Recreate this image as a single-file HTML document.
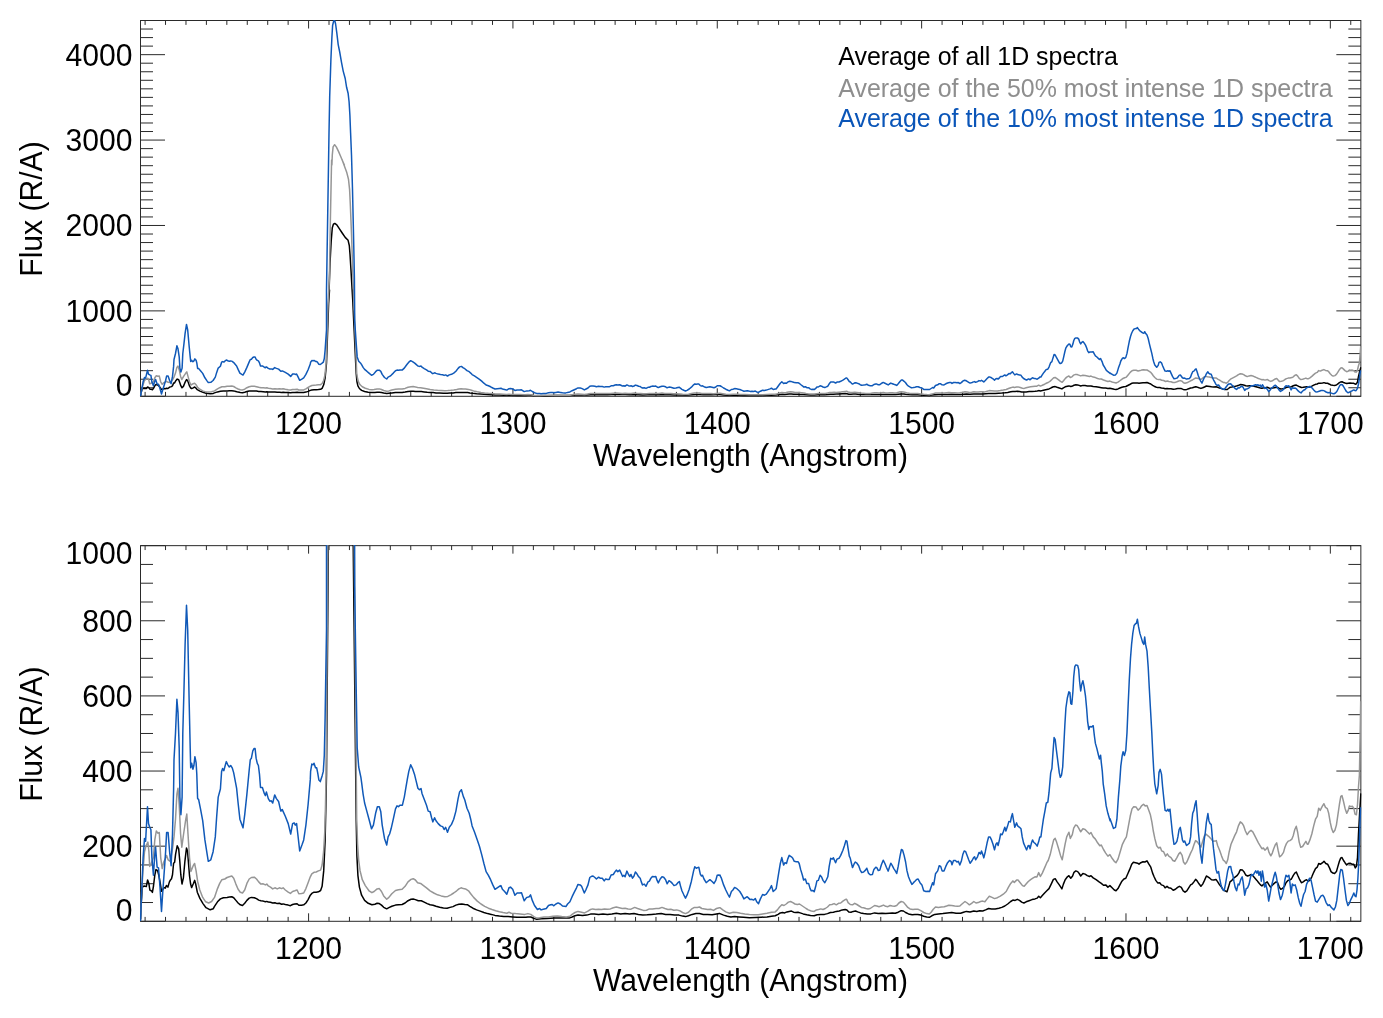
<!DOCTYPE html>
<html><head><meta charset="utf-8"><title>Spectra</title>
<style>
html,body{margin:0;padding:0;background:#fff;}
svg{display:block;}
text{font-family:"Liberation Sans",sans-serif;}
.ax{font-size:30.1px;fill:#000;}
.lg{font-size:24.95px;}
.fr{fill:none;stroke:#2a2a2a;stroke-width:1;}
.tk{stroke:#2a2a2a;stroke-width:1;fill:none;}
.c{fill:none;stroke-width:1.5;stroke-linejoin:round;stroke-linecap:butt;}
</style></head><body>
<svg width="1383" height="1018" viewBox="0 0 1383 1018">
<rect width="1383" height="1018" fill="#fff"/>
<defs><clipPath id="c1"><rect x="139.9" y="19.9" width="1221.55" height="377.0"/></clipPath>
<clipPath id="c2"><rect x="139.9" y="545.05" width="1221.55" height="376.84999999999997"/></clipPath></defs>

<path class="tk" d="M145.10 20.5v4.4M145.10 396.3v-4.4M165.53 20.5v4.4M165.53 396.3v-4.4M185.97 20.5v4.4M185.97 396.3v-4.4M206.40 20.5v4.4M206.40 396.3v-4.4M226.84 20.5v4.4M226.84 396.3v-4.4M247.27 20.5v4.4M247.27 396.3v-4.4M267.71 20.5v4.4M267.71 396.3v-4.4M288.14 20.5v4.4M288.14 396.3v-4.4M308.58 20.5v8.0M308.58 396.3v-8.0M329.01 20.5v4.4M329.01 396.3v-4.4M349.45 20.5v4.4M349.45 396.3v-4.4M369.88 20.5v4.4M369.88 396.3v-4.4M390.32 20.5v4.4M390.32 396.3v-4.4M410.75 20.5v4.4M410.75 396.3v-4.4M431.19 20.5v4.4M431.19 396.3v-4.4M451.62 20.5v4.4M451.62 396.3v-4.4M472.06 20.5v4.4M472.06 396.3v-4.4M492.50 20.5v4.4M492.50 396.3v-4.4M512.93 20.5v8.0M512.93 396.3v-8.0M533.37 20.5v4.4M533.37 396.3v-4.4M553.80 20.5v4.4M553.80 396.3v-4.4M574.23 20.5v4.4M574.23 396.3v-4.4M594.67 20.5v4.4M594.67 396.3v-4.4M615.11 20.5v4.4M615.11 396.3v-4.4M635.54 20.5v4.4M635.54 396.3v-4.4M655.97 20.5v4.4M655.97 396.3v-4.4M676.41 20.5v4.4M676.41 396.3v-4.4M696.85 20.5v4.4M696.85 396.3v-4.4M717.28 20.5v8.0M717.28 396.3v-8.0M737.71 20.5v4.4M737.71 396.3v-4.4M758.15 20.5v4.4M758.15 396.3v-4.4M778.59 20.5v4.4M778.59 396.3v-4.4M799.02 20.5v4.4M799.02 396.3v-4.4M819.45 20.5v4.4M819.45 396.3v-4.4M839.89 20.5v4.4M839.89 396.3v-4.4M860.33 20.5v4.4M860.33 396.3v-4.4M880.76 20.5v4.4M880.76 396.3v-4.4M901.19 20.5v4.4M901.19 396.3v-4.4M921.63 20.5v8.0M921.63 396.3v-8.0M942.07 20.5v4.4M942.07 396.3v-4.4M962.50 20.5v4.4M962.50 396.3v-4.4M982.93 20.5v4.4M982.93 396.3v-4.4M1003.37 20.5v4.4M1003.37 396.3v-4.4M1023.80 20.5v4.4M1023.80 396.3v-4.4M1044.24 20.5v4.4M1044.24 396.3v-4.4M1064.67 20.5v4.4M1064.67 396.3v-4.4M1085.11 20.5v4.4M1085.11 396.3v-4.4M1105.54 20.5v4.4M1105.54 396.3v-4.4M1125.98 20.5v8.0M1125.98 396.3v-8.0M1146.41 20.5v4.4M1146.41 396.3v-4.4M1166.85 20.5v4.4M1166.85 396.3v-4.4M1187.28 20.5v4.4M1187.28 396.3v-4.4M1207.72 20.5v4.4M1207.72 396.3v-4.4M1228.15 20.5v4.4M1228.15 396.3v-4.4M1248.59 20.5v4.4M1248.59 396.3v-4.4M1269.02 20.5v4.4M1269.02 396.3v-4.4M1289.46 20.5v4.4M1289.46 396.3v-4.4M1309.89 20.5v4.4M1309.89 396.3v-4.4M1330.33 20.5v8.0M1330.33 396.3v-8.0M1350.76 20.5v4.4M1350.76 396.3v-4.4M140.5 387.76h12.5M1360.85 387.76h-12.5M140.5 379.22h12.5M1360.85 379.22h-12.5M140.5 370.68h12.5M1360.85 370.68h-12.5M140.5 362.14h12.5M1360.85 362.14h-12.5M140.5 353.60h12.5M1360.85 353.60h-12.5M140.5 345.05h12.5M1360.85 345.05h-12.5M140.5 336.51h12.5M1360.85 336.51h-12.5M140.5 327.97h12.5M1360.85 327.97h-12.5M140.5 319.43h12.5M1360.85 319.43h-12.5M140.5 302.35h12.5M1360.85 302.35h-12.5M140.5 293.81h12.5M1360.85 293.81h-12.5M140.5 285.27h12.5M1360.85 285.27h-12.5M140.5 276.73h12.5M1360.85 276.73h-12.5M140.5 268.19h12.5M1360.85 268.19h-12.5M140.5 259.65h12.5M1360.85 259.65h-12.5M140.5 251.10h12.5M1360.85 251.10h-12.5M140.5 242.56h12.5M1360.85 242.56h-12.5M140.5 234.02h12.5M1360.85 234.02h-12.5M140.5 216.94h12.5M1360.85 216.94h-12.5M140.5 208.40h12.5M1360.85 208.40h-12.5M140.5 199.86h12.5M1360.85 199.86h-12.5M140.5 191.32h12.5M1360.85 191.32h-12.5M140.5 182.78h12.5M1360.85 182.78h-12.5M140.5 174.24h12.5M1360.85 174.24h-12.5M140.5 165.70h12.5M1360.85 165.70h-12.5M140.5 157.15h12.5M1360.85 157.15h-12.5M140.5 148.61h12.5M1360.85 148.61h-12.5M140.5 131.53h12.5M1360.85 131.53h-12.5M140.5 122.99h12.5M1360.85 122.99h-12.5M140.5 114.45h12.5M1360.85 114.45h-12.5M140.5 105.91h12.5M1360.85 105.91h-12.5M140.5 97.37h12.5M1360.85 97.37h-12.5M140.5 88.83h12.5M1360.85 88.83h-12.5M140.5 80.29h12.5M1360.85 80.29h-12.5M140.5 71.75h12.5M1360.85 71.75h-12.5M140.5 63.20h12.5M1360.85 63.20h-12.5M140.5 46.12h12.5M1360.85 46.12h-12.5M140.5 37.58h12.5M1360.85 37.58h-12.5M140.5 29.04h12.5M1360.85 29.04h-12.5M140.5 396.30h24.5M1360.85 396.30h-24.5M140.5 310.89h24.5M1360.85 310.89h-24.5M140.5 225.48h24.5M1360.85 225.48h-24.5M140.5 140.07h24.5M1360.85 140.07h-24.5M140.5 54.66h24.5M1360.85 54.66h-24.5"/>
<rect class="fr" x="140.5" y="20.5" width="1220.35" height="375.8"/>
<text class="ax" transform="translate(132.4 396.30) scale(1 1.06)" text-anchor="end">0</text>
<text class="ax" transform="translate(132.4 321.79) scale(1 1.06)" text-anchor="end">1000</text>
<text class="ax" transform="translate(132.4 236.38) scale(1 1.06)" text-anchor="end">2000</text>
<text class="ax" transform="translate(132.4 150.97) scale(1 1.06)" text-anchor="end">3000</text>
<text class="ax" transform="translate(132.4 65.56) scale(1 1.06)" text-anchor="end">4000</text>
<text class="ax" transform="translate(308.58 433.80) scale(1 1.06)" text-anchor="middle">1200</text>
<text class="ax" transform="translate(512.93 433.80) scale(1 1.06)" text-anchor="middle">1300</text>
<text class="ax" transform="translate(717.28 433.80) scale(1 1.06)" text-anchor="middle">1400</text>
<text class="ax" transform="translate(921.63 433.80) scale(1 1.06)" text-anchor="middle">1500</text>
<text class="ax" transform="translate(1125.98 433.80) scale(1 1.06)" text-anchor="middle">1600</text>
<text class="ax" transform="translate(1330.33 433.80) scale(1 1.06)" text-anchor="middle">1700</text>
<text class="ax" transform="translate(750.47 465.90) scale(1 1.06)" text-anchor="middle">Wavelength (Angstrom)</text>
<text class="ax" transform="translate(41.6 209.00) rotate(-90) scale(1 1.06)" text-anchor="middle">Flux (R/A)</text>
<g clip-path="url(#c1)">
<path class="c" stroke="#000" d="M140.6 395.8 L141.3 392.0 L142.3 388.5 L144.2 388.3 L146.3 388.4 L147.6 386.9 L148.8 387.6 L149.9 389.2 L151.4 389.3 L152.4 389.7 L153.5 388.3 L154.8 385.8 L156.0 384.5 L157.6 384.8 L158.8 385.8 L160.2 387.6 L161.5 389.5 L162.5 389.2 L163.6 388.8 L164.3 388.6 L165.3 388.8 L166.4 388.2 L167.9 388.5 L169.4 387.3 L170.5 386.9 L171.5 386.6 L172.5 385.7 L173.6 383.1 L174.6 382.9 L175.6 381.0 L177.2 379.1 L178.7 379.8 L179.8 382.7 L180.8 385.7 L182.0 387.8 L183.4 386.4 L184.9 382.7 L186.5 379.6 L187.5 380.3 L188.5 383.1 L189.5 385.9 L190.6 387.8 L191.6 388.6 L193.2 387.8 L194.7 387.0 L195.7 387.8 L197.3 389.7 L199.9 391.1 L203.0 392.3 L206.0 393.2 L210.2 393.7 L213.3 393.4 L214.5 392.9 L217.5 391.9 L220.4 391.2 L223.4 390.9 L227.1 390.9 L229.3 390.8 L231.8 390.7 L233.7 390.9 L235.9 391.5 L238.1 392.1 L240.3 392.5 L242.5 392.7 L244.7 392.2 L246.9 391.5 L249.2 391.0 L251.4 390.9 L254.3 390.9 L256.5 391.1 L258.7 391.5 L260.9 391.6 L263.2 391.7 L265.4 391.9 L266.8 391.8 L268.3 391.9 L270.5 392.0 L272.7 392.1 L274.9 392.1 L277.2 392.3 L279.4 392.2 L281.6 392.4 L283.1 392.3 L285.3 392.5 L288.2 392.6 L290.4 392.7 L292.6 392.5 L294.8 392.4 L297.1 392.3 L298.8 392.6 L301.5 392.6 L303.7 392.5 L305.9 392.1 L308.1 391.4 L310.3 390.4 L311.8 390.0 L314.0 389.7 L316.2 389.7 L318.4 389.6 L320.6 389.3 L322.1 388.4 L323.7 384.8 L325.1 378.1 L325.9 369.7 L326.5 363.0 L328.7 300.9 L329.5 290.1 L328.2 310.0 L329.0 292.6 L330.0 263.2 L331.2 241.1 L332.3 227.8 L333.4 224.2 L334.8 223.4 L336.8 224.9 L339.3 228.6 L342.2 233.0 L345.2 237.4 L348.1 240.3 L349.3 245.5 L350.0 254.3 L351.0 270.5 L352.1 289.7 L353.3 310.0 L352.4 290.1 L353.0 306.3 L355.7 363.0 L356.2 373.1 L356.9 381.5 L357.9 385.8 L359.4 388.5 L361.6 390.4 L364.6 391.5 L368.2 392.2 L371.9 392.5 L374.9 392.4 L377.1 392.2 L379.3 392.3 L381.5 392.6 L383.7 393.1 L386.7 393.5 L388.9 393.2 L391.8 392.9 L395.5 392.6 L398.5 392.5 L402.1 392.5 L405.1 392.1 L408.0 391.6 L411.0 391.3 L413.2 391.2 L415.4 391.4 L418.3 391.6 L421.3 391.6 L424.2 391.9 L427.2 392.3 L430.1 392.5 L433.1 392.6 L436.0 392.9 L439.7 393.1 L443.4 393.3 L447.1 393.3 L450.0 393.1 L453.0 392.9 L455.9 392.6 L458.9 392.4 L461.8 392.4 L464.8 392.5 L467.7 392.5 L469.9 392.9 L472.9 393.3 L476.6 393.7 L480.2 394.0 L483.9 394.3 L487.6 394.6 L491.3 394.7 L495.0 395.0 L499.4 395.1 L503.8 395.2 L508.2 395.2 L512.7 395.3 L517.1 395.4 L521.5 395.4 L525.9 395.4 L527.9 395.3 L530.8 395.3 L533.8 395.6 L536.7 395.8 L541.1 395.7 L547.0 395.7 L554.4 395.6 L561.8 395.6 L569.1 395.6 L572.1 395.3 L575.0 395.1 L578.0 394.9 L582.4 395.0 L586.8 394.9 L590.5 394.7 L594.2 394.6 L598.6 394.7 L603.0 394.7 L607.4 394.7 L611.9 394.6 L616.3 394.5 L620.7 394.6 L625.1 394.6 L629.5 394.7 L634.0 394.6 L638.4 394.7 L642.8 394.9 L647.2 394.8 L651.6 394.7 L656.1 394.7 L661.2 394.6 L665.6 394.7 L670.1 394.7 L674.5 394.9 L678.9 394.9 L682.6 395.1 L685.5 395.2 L688.5 395.1 L692.2 394.7 L695.9 394.6 L699.5 394.6 L703.2 394.7 L707.6 394.7 L712.1 394.8 L716.5 394.6 L719.4 394.6 L719.9 394.6 L723.6 394.9 L727.3 395.2 L730.9 395.3 L734.6 395.2 L739.0 395.3 L743.5 395.4 L749.4 395.5 L755.3 395.5 L761.2 395.4 L767.0 395.3 L771.5 395.2 L775.2 395.1 L778.1 394.7 L780.3 394.4 L782.5 394.3 L784.7 394.4 L786.9 394.2 L789.2 394.1 L791.4 394.0 L793.6 394.2 L795.8 394.3 L798.0 394.2 L800.2 394.4 L803.2 394.6 L806.8 394.8 L810.5 395.0 L814.2 395.1 L817.2 394.8 L820.8 394.7 L824.5 394.7 L827.5 394.6 L830.4 394.3 L833.4 394.2 L836.3 394.1 L839.3 394.0 L842.2 393.7 L845.2 393.6 L846.9 393.7 L848.8 394.2 L851.0 394.2 L853.3 394.1 L855.5 394.0 L857.7 394.2 L860.6 394.4 L863.6 394.6 L867.3 394.6 L870.9 394.6 L874.6 394.4 L878.3 394.6 L882.0 394.5 L885.7 394.6 L889.4 394.5 L892.3 394.4 L895.3 394.5 L898.2 394.2 L901.2 393.9 L903.4 394.0 L905.6 394.3 L908.5 394.6 L912.2 394.8 L914.9 394.7 L917.8 394.7 L920.8 394.9 L923.7 395.2 L926.7 395.3 L929.3 395.4 L931.8 395.1 L934.8 394.7 L938.4 394.6 L942.9 394.6 L947.3 394.4 L951.7 394.3 L956.1 394.5 L960.6 394.5 L963.5 394.2 L966.4 394.1 L970.1 394.2 L973.8 394.0 L976.8 394.1 L979.7 393.9 L982.7 394.0 L985.6 393.7 L988.6 393.4 L991.5 393.5 L995.2 393.5 L998.9 393.3 L1001.8 393.1 L1004.8 392.8 L1007.7 392.4 L1010.7 391.8 L1012.9 391.5 L1015.1 391.5 L1017.3 391.3 L1019.5 391.5 L1021.7 391.9 L1023.9 392.1 L1026.1 391.9 L1029.1 391.6 L1032.0 391.4 L1035.0 391.2 L1037.2 391.0 L1038.7 390.6 L1040.4 390.9 L1042.3 390.5 L1044.6 389.9 L1046.8 389.4 L1049.0 388.9 L1051.2 387.8 L1053.4 386.8 L1055.2 386.6 L1057.1 387.3 L1059.3 388.0 L1061.9 388.9 L1063.4 387.8 L1065.2 386.8 L1067.4 386.2 L1068.9 385.9 L1070.8 386.5 L1072.6 386.0 L1074.0 385.2 L1075.8 384.8 L1077.7 385.0 L1079.2 385.4 L1080.7 386.0 L1082.9 385.4 L1085.1 385.6 L1087.3 385.9 L1089.5 386.1 L1091.0 385.9 L1093.2 386.4 L1096.1 386.8 L1099.1 387.3 L1101.3 387.7 L1103.5 388.1 L1105.7 388.0 L1107.9 388.5 L1109.9 388.2 L1112.1 388.7 L1114.3 389.2 L1116.0 389.4 L1118.0 388.9 L1119.9 388.0 L1121.9 387.2 L1123.9 386.7 L1125.8 386.5 L1127.8 385.5 L1129.7 384.5 L1131.7 383.3 L1133.4 382.9 L1135.6 383.0 L1137.6 383.1 L1139.0 383.3 L1140.8 383.0 L1143.0 382.8 L1144.9 382.8 L1147.0 382.5 L1148.9 383.3 L1150.8 384.0 L1152.6 385.3 L1154.1 386.2 L1155.8 387.0 L1157.7 387.6 L1159.7 387.5 L1161.4 388.0 L1163.6 388.2 L1165.1 388.7 L1167.0 388.4 L1168.8 388.7 L1171.0 388.8 L1173.2 389.3 L1175.4 389.0 L1177.6 388.6 L1179.4 388.4 L1181.3 388.6 L1183.2 389.4 L1185.0 389.7 L1186.8 389.4 L1188.7 388.7 L1190.6 388.0 L1192.4 387.8 L1193.9 387.3 L1195.6 386.8 L1197.1 387.1 L1199.0 387.8 L1200.9 388.4 L1202.7 387.8 L1204.5 387.0 L1206.4 386.0 L1207.9 386.2 L1209.8 386.5 L1211.5 386.8 L1213.7 386.9 L1216.0 386.8 L1217.7 387.3 L1219.6 388.0 L1221.6 388.6 L1223.3 389.2 L1225.1 389.4 L1227.0 389.6 L1228.5 388.5 L1230.0 387.3 L1231.9 387.0 L1233.6 386.5 L1235.4 386.2 L1237.3 385.8 L1238.8 385.3 L1240.3 384.6 L1242.5 384.7 L1244.3 385.2 L1245.7 385.8 L1247.6 386.0 L1249.6 385.8 L1251.3 385.7 L1253.1 386.0 L1255.0 386.5 L1256.9 387.0 L1258.7 387.5 L1260.5 388.0 L1261.9 388.3 L1263.9 387.8 L1265.8 387.6 L1267.2 387.3 L1269.0 388.0 L1270.5 388.5 L1272.3 388.1 L1274.2 387.7 L1276.1 387.3 L1277.6 387.5 L1279.3 388.5 L1280.8 389.0 L1282.6 388.8 L1284.5 388.4 L1286.0 387.5 L1287.9 387.0 L1289.6 386.9 L1291.4 386.7 L1293.3 385.8 L1294.8 385.3 L1296.3 385.1 L1297.7 385.8 L1299.7 386.8 L1301.4 387.5 L1303.2 387.3 L1305.1 387.0 L1306.6 386.8 L1308.1 387.2 L1309.9 387.0 L1311.8 386.2 L1313.7 385.2 L1315.5 384.3 L1317.2 384.0 L1318.7 383.2 L1320.6 383.3 L1322.6 383.0 L1324.0 382.6 L1325.8 383.2 L1327.6 383.3 L1329.5 384.2 L1331.0 385.0 L1332.9 385.3 L1334.6 385.4 L1336.4 385.0 L1337.9 383.8 L1339.4 382.6 L1340.8 381.9 L1342.0 381.8 L1343.5 382.5 L1345.0 383.0 L1346.7 383.5 L1348.2 383.2 L1350.1 383.1 L1352.0 383.3 L1353.8 383.3 L1355.3 384.2 L1356.4 383.8 L1357.5 381.8 L1358.5 376.4 L1359.7 371.4 L1360.9 367.2"/>
<path class="c" stroke="#969696" d="M140.5 396.2 L141.6 389.9 L143.1 384.5 L144.5 380.5 L146.0 379.1 L147.9 378.3 L148.9 380.5 L149.7 383.8 L151.2 383.2 L153.4 381.8 L154.8 377.8 L156.3 375.8 L157.8 376.3 L159.3 376.1 L160.7 381.8 L162.2 384.3 L163.7 382.8 L165.2 382.1 L166.6 381.3 L168.1 382.3 L170.3 382.6 L172.5 379.8 L174.0 377.1 L175.5 373.1 L176.9 367.4 L178.0 366.0 L179.2 369.7 L180.6 376.4 L181.8 379.5 L183.6 376.4 L185.8 373.1 L186.8 371.9 L188.0 376.4 L189.5 381.8 L190.9 385.0 L193.2 383.7 L194.6 383.2 L196.1 384.8 L197.6 387.2 L199.8 389.2 L202.7 390.9 L205.7 391.9 L208.6 392.1 L211.6 391.8 L214.5 390.9 L217.5 388.9 L219.7 387.7 L221.9 386.8 L224.8 386.7 L227.1 386.3 L229.3 386.2 L231.8 386.0 L233.7 386.5 L235.9 387.8 L238.1 389.0 L240.3 389.7 L242.5 389.9 L244.7 389.2 L246.9 387.7 L249.2 386.7 L251.4 386.3 L254.3 386.3 L256.5 386.7 L258.7 387.3 L260.9 387.8 L263.2 387.8 L265.4 388.0 L266.8 387.8 L268.3 388.3 L270.5 388.5 L272.7 388.9 L274.9 388.7 L277.2 388.9 L279.4 388.7 L281.6 388.9 L283.1 388.7 L285.3 389.2 L288.2 389.7 L290.4 390.0 L292.6 389.5 L294.8 389.4 L297.1 389.2 L298.8 390.0 L301.5 390.0 L303.7 389.9 L305.9 388.9 L308.1 387.5 L310.3 386.2 L311.8 385.5 L314.0 385.2 L316.2 385.1 L318.4 384.8 L320.6 384.7 L322.1 383.5 L323.6 380.5 L324.8 375.8 L325.5 369.7 L326.1 363.0 L328.0 306.3 L328.8 290.1 L329.4 277.9 L330.4 219.0 L331.6 160.1 L331.9 165.0 L332.3 155.0 L333.1 146.9 L334.6 144.7 L336.3 146.9 L338.5 151.4 L340.7 156.5 L342.9 161.7 L344.4 165.0 L342.2 160.1 L344.4 166.0 L346.6 171.9 L348.5 179.3 L349.6 189.6 L350.3 204.3 L351.5 233.7 L352.5 263.2 L353.5 292.6 L354.0 310.0 L353.5 290.1 L354.0 306.3 L356.7 373.1 L357.6 378.8 L358.7 382.5 L360.1 384.8 L362.3 386.8 L365.3 388.2 L369.0 389.4 L371.9 389.8 L374.1 389.5 L377.1 388.9 L379.3 388.9 L381.5 389.5 L383.7 390.5 L386.7 391.3 L388.9 390.9 L391.8 390.0 L395.5 389.3 L398.5 389.1 L402.1 389.0 L405.1 388.4 L408.0 387.3 L411.0 386.8 L413.2 386.6 L415.4 386.9 L417.6 387.5 L420.6 387.7 L423.5 388.2 L426.5 388.7 L430.1 389.4 L433.8 389.9 L437.5 390.3 L441.2 390.5 L444.9 390.7 L447.8 390.6 L450.8 390.3 L453.7 389.9 L456.7 389.4 L458.9 388.9 L461.1 388.7 L463.3 388.9 L465.5 388.9 L468.5 389.4 L470.7 390.0 L473.6 390.9 L477.3 391.7 L481.0 392.4 L484.7 392.9 L488.4 393.3 L492.0 393.6 L495.7 393.9 L499.4 394.1 L503.1 394.3 L506.8 394.5 L509.0 394.2 L511.2 394.5 L515.6 394.6 L520.0 394.6 L524.5 394.7 L524.9 394.7 L527.9 394.6 L530.8 394.7 L533.8 395.2 L536.7 395.6 L539.6 395.5 L544.1 395.3 L548.5 395.3 L552.9 395.2 L557.3 395.1 L561.8 395.2 L566.2 395.3 L569.9 395.2 L572.1 394.7 L575.0 394.3 L578.0 394.1 L581.6 394.2 L584.6 394.4 L587.5 394.1 L590.5 393.6 L592.7 393.5 L595.6 393.6 L598.6 393.6 L601.5 393.6 L604.5 393.5 L607.4 393.6 L610.4 393.5 L613.3 393.2 L616.3 393.0 L619.2 393.2 L622.2 393.4 L625.1 393.3 L628.1 393.5 L631.0 393.6 L634.7 393.1 L637.6 393.4 L640.6 393.6 L643.5 393.8 L646.5 393.8 L649.4 393.5 L652.4 393.5 L656.1 393.4 L659.0 393.4 L662.0 393.1 L664.9 393.4 L667.9 393.6 L670.8 393.6 L673.8 393.8 L676.7 393.7 L679.6 393.9 L682.6 394.3 L685.5 394.6 L688.5 394.2 L691.4 393.6 L694.4 393.1 L697.3 393.1 L699.5 393.0 L701.8 393.4 L704.7 393.5 L707.6 393.6 L710.6 393.6 L713.5 393.8 L716.5 393.4 L719.4 393.2 L719.9 393.2 L722.8 393.7 L725.8 394.2 L729.5 394.5 L733.2 394.2 L736.8 394.3 L740.5 394.5 L744.9 394.6 L749.4 394.7 L753.8 394.8 L758.2 394.8 L762.6 394.7 L767.0 394.5 L771.5 394.2 L775.2 394.2 L777.4 393.7 L779.6 393.0 L781.8 392.5 L784.0 392.7 L786.2 392.4 L788.4 391.9 L790.6 391.8 L792.8 392.0 L795.0 392.4 L797.3 392.5 L799.5 392.4 L801.7 392.7 L803.9 393.0 L806.1 393.4 L808.3 393.7 L811.3 394.0 L814.2 394.1 L816.4 393.7 L818.6 393.6 L820.8 393.5 L823.0 393.6 L825.3 393.4 L827.5 393.0 L829.7 392.5 L831.9 392.5 L834.1 392.3 L836.3 392.5 L838.5 392.2 L840.7 392.1 L842.9 391.7 L845.2 391.4 L846.6 391.3 L848.1 392.0 L850.3 392.5 L852.5 392.5 L854.7 392.2 L856.9 392.5 L859.2 392.8 L861.4 393.1 L863.6 393.2 L865.8 393.4 L868.0 393.5 L870.2 393.4 L872.4 393.0 L874.6 392.7 L876.8 392.8 L879.0 393.0 L881.3 392.8 L883.5 392.6 L885.7 392.9 L887.9 393.0 L890.1 392.7 L892.3 392.8 L894.5 392.9 L896.7 392.7 L898.9 392.1 L901.2 391.8 L903.4 391.9 L905.6 392.5 L907.8 393.1 L910.0 393.5 L912.9 393.6 L914.9 393.6 L917.8 393.6 L920.8 393.9 L923.7 394.3 L926.7 394.6 L929.3 394.7 L931.1 394.2 L933.3 393.6 L935.5 393.0 L938.4 393.1 L941.4 393.0 L944.3 393.0 L946.6 392.8 L948.8 392.6 L951.7 392.7 L954.7 392.8 L957.6 392.9 L959.8 392.8 L962.0 392.4 L965.0 391.8 L967.2 392.1 L969.4 392.5 L971.6 392.2 L973.8 391.8 L976.0 392.1 L978.2 392.0 L980.5 391.8 L982.7 391.7 L984.9 391.9 L987.1 391.2 L989.3 390.6 L991.5 390.8 L994.5 391.1 L997.4 390.9 L1000.3 390.6 L1003.3 390.1 L1006.2 389.5 L1008.5 388.5 L1010.7 387.7 L1012.9 387.1 L1014.3 387.4 L1016.6 386.9 L1018.0 386.9 L1020.2 387.5 L1022.5 388.2 L1024.2 388.4 L1026.1 387.8 L1028.3 387.2 L1030.6 386.8 L1032.8 386.5 L1035.0 386.2 L1036.9 386.2 L1038.7 385.2 L1040.4 386.1 L1042.3 385.3 L1044.6 384.2 L1046.8 383.0 L1048.2 382.5 L1050.2 381.1 L1051.9 379.5 L1053.7 377.8 L1055.2 377.5 L1056.6 378.3 L1058.6 379.8 L1060.5 381.3 L1062.2 382.3 L1063.7 380.5 L1065.2 378.6 L1066.7 377.1 L1068.9 376.0 L1070.3 377.5 L1072.3 376.6 L1073.7 375.1 L1075.5 374.4 L1077.0 374.5 L1078.7 375.1 L1080.7 375.9 L1082.9 375.3 L1085.1 375.4 L1087.3 375.9 L1089.5 376.4 L1091.0 376.1 L1093.2 377.1 L1095.4 377.6 L1097.6 378.5 L1099.8 379.1 L1101.3 379.0 L1103.5 380.0 L1105.7 380.8 L1107.9 381.5 L1109.9 381.1 L1112.1 382.0 L1114.3 382.6 L1116.0 383.0 L1118.0 382.1 L1120.2 380.5 L1122.4 378.8 L1124.6 377.8 L1126.4 377.1 L1128.3 374.8 L1130.2 372.4 L1132.0 370.7 L1133.7 370.2 L1136.1 370.3 L1138.1 371.0 L1140.1 370.6 L1141.5 370.1 L1143.5 369.7 L1145.2 370.1 L1147.0 370.0 L1148.5 370.9 L1150.4 372.1 L1151.9 373.8 L1153.3 375.8 L1154.8 377.5 L1156.7 379.1 L1158.5 379.6 L1160.3 379.5 L1161.7 380.3 L1163.6 380.5 L1165.6 381.5 L1167.3 381.0 L1168.8 381.5 L1171.0 381.8 L1172.9 382.5 L1174.7 382.6 L1176.9 381.8 L1178.8 381.0 L1180.3 380.6 L1182.1 381.3 L1183.5 382.8 L1185.0 383.3 L1186.8 382.8 L1188.7 381.8 L1190.6 380.8 L1192.4 380.0 L1194.1 378.8 L1195.6 378.0 L1197.5 378.3 L1199.0 378.8 L1200.9 379.5 L1202.7 378.1 L1204.2 376.9 L1205.9 376.4 L1207.4 376.8 L1209.3 377.1 L1211.2 377.6 L1213.0 378.1 L1214.8 378.1 L1216.3 378.0 L1217.7 379.1 L1219.6 380.1 L1221.6 381.5 L1223.3 382.4 L1224.8 382.6 L1226.3 383.2 L1227.7 382.3 L1229.2 380.5 L1231.0 378.8 L1232.9 377.8 L1234.8 376.8 L1236.6 375.9 L1238.4 374.6 L1240.3 373.7 L1242.2 374.0 L1243.7 374.6 L1245.4 375.8 L1247.2 376.6 L1249.1 375.9 L1251.0 375.6 L1252.8 375.9 L1254.6 376.8 L1256.5 377.6 L1258.4 378.5 L1260.2 379.1 L1261.9 379.8 L1263.4 379.6 L1264.9 380.1 L1266.4 379.8 L1267.5 379.5 L1269.0 380.6 L1270.8 381.4 L1272.3 380.8 L1273.7 379.8 L1275.2 379.0 L1276.7 378.5 L1278.1 380.1 L1279.6 381.6 L1281.5 381.3 L1283.5 380.6 L1284.9 379.5 L1286.4 378.6 L1288.2 378.1 L1289.9 378.0 L1291.9 377.6 L1293.3 376.8 L1294.8 375.4 L1296.3 374.7 L1297.7 376.1 L1299.2 378.3 L1300.7 379.5 L1302.6 379.3 L1304.4 378.6 L1305.9 378.1 L1307.3 378.8 L1308.1 378.8 L1309.9 377.8 L1311.8 376.4 L1313.7 374.6 L1315.5 373.1 L1317.2 372.4 L1318.7 370.6 L1320.2 371.1 L1322.1 370.2 L1323.9 369.6 L1325.5 370.4 L1327.3 370.7 L1328.7 371.7 L1330.2 373.8 L1331.7 375.3 L1333.2 376.1 L1334.9 375.6 L1336.4 374.4 L1337.9 372.1 L1339.4 369.7 L1340.8 367.9 L1342.0 367.7 L1343.5 369.1 L1345.0 370.6 L1346.7 371.7 L1348.2 371.1 L1349.4 370.1 L1350.8 370.2 L1352.3 370.1 L1353.8 370.6 L1355.0 371.9 L1356.4 372.1 L1357.5 369.7 L1358.5 365.7 L1359.4 363.0 L1360.1 354.6 L1360.7 346.3"/>
<path class="c" stroke="#1059b8" d="M140.5 396.2 L141.6 389.9 L143.1 381.8 L144.5 377.5 L145.6 378.1 L147.5 370.2 L148.5 374.1 L149.7 374.9 L150.9 375.4 L151.9 381.8 L153.4 385.8 L154.8 381.1 L155.6 379.5 L157.1 384.0 L158.5 384.2 L160.0 388.5 L161.5 394.1 L162.9 389.2 L164.4 384.5 L165.6 380.5 L166.6 376.1 L168.1 376.1 L169.6 380.5 L171.1 383.7 L172.5 376.4 L173.6 366.4 L174.0 359.5 L175.5 353.5 L176.9 345.8 L178.0 348.8 L179.2 356.9 L179.9 368.1 L180.9 372.1 L182.1 368.1 L182.8 353.5 L184.0 343.4 L185.1 333.4 L186.5 324.4 L187.7 330.0 L188.3 336.7 L189.2 346.8 L190.2 356.9 L190.7 361.4 L191.7 360.4 L192.9 361.7 L193.9 360.9 L194.9 358.9 L196.1 360.2 L196.8 362.9 L197.6 368.4 L198.6 368.6 L200.5 370.7 L202.7 373.4 L204.9 377.8 L207.2 381.1 L208.3 382.6 L210.8 382.3 L213.1 380.5 L215.3 377.1 L216.7 372.4 L218.2 368.1 L220.4 366.2 L221.6 362.2 L222.6 361.6 L223.8 362.1 L224.8 361.2 L226.3 360.0 L227.8 360.7 L229.3 361.2 L230.7 360.9 L232.2 361.4 L233.7 362.6 L236.6 366.0 L238.1 369.4 L239.9 373.1 L241.8 374.3 L243.0 375.0 L244.7 372.1 L246.9 367.4 L249.2 361.9 L250.3 359.5 L251.4 359.2 L252.8 357.5 L254.0 357.0 L255.1 357.0 L256.1 359.2 L257.3 360.4 L258.4 360.9 L259.5 362.9 L260.5 365.9 L262.4 365.9 L264.3 367.2 L265.4 367.7 L266.4 366.9 L268.3 368.4 L269.8 369.0 L271.3 368.9 L272.7 369.4 L274.7 367.6 L276.4 368.4 L278.6 369.1 L280.8 371.2 L282.3 370.9 L285.3 372.4 L288.2 374.1 L290.7 376.4 L292.6 374.1 L294.1 373.9 L295.3 374.4 L296.6 374.1 L297.8 376.4 L299.7 380.3 L302.2 378.8 L303.7 377.8 L305.9 374.4 L308.1 369.7 L310.3 364.0 L310.6 362.2 L311.8 360.6 L313.3 360.7 L314.0 360.4 L315.5 361.4 L316.7 361.4 L317.7 362.6 L318.9 364.2 L320.3 364.5 L322.1 363.2 L323.3 362.2 L324.3 358.5 L325.1 350.2 L325.8 340.1 L326.5 330.0 L326.5 290.1 L328.5 165.0 L329.0 133.0 L329.7 96.2 L330.9 59.4 L331.9 37.3 L332.6 25.5 L333.7 20.8 L334.8 20.8 L335.6 24.0 L336.8 32.9 L338.2 44.6 L339.7 52.0 L341.5 62.3 L343.2 71.1 L345.2 78.5 L346.6 87.3 L348.1 93.2 L349.1 102.0 L349.9 115.3 L350.6 133.0 L351.5 155.0 L352.5 189.6 L353.5 233.7 L354.4 277.9 L354.7 320.0 L355.3 330.0 L356.2 343.4 L357.2 356.9 L358.7 361.2 L360.9 363.6 L361.6 364.7 L363.1 367.4 L364.6 369.4 L366.8 371.2 L369.0 373.1 L371.5 375.3 L373.4 374.4 L375.6 371.7 L377.4 370.2 L379.3 370.2 L380.8 371.4 L382.2 374.4 L384.5 377.5 L386.7 379.0 L388.1 377.1 L389.6 376.4 L391.1 375.3 L393.3 373.1 L395.5 370.7 L397.0 370.1 L398.5 370.2 L399.9 369.9 L402.4 369.9 L404.3 368.1 L405.8 366.0 L407.3 364.0 L408.8 362.2 L410.7 360.7 L412.5 361.6 L414.7 363.1 L416.1 364.4 L417.9 366.0 L419.4 366.4 L421.0 366.1 L422.0 367.2 L424.2 368.6 L426.5 369.9 L428.2 371.2 L430.1 371.4 L431.6 372.8 L432.8 373.7 L434.6 372.8 L436.0 373.4 L438.2 374.1 L440.5 374.6 L442.7 374.8 L444.1 375.4 L445.6 374.9 L447.5 376.0 L449.3 374.9 L451.5 374.3 L453.7 373.1 L455.9 371.2 L458.1 368.4 L459.6 366.9 L461.4 366.4 L463.3 367.9 L464.8 368.7 L467.0 370.6 L469.2 371.7 L470.7 373.1 L472.1 374.6 L474.4 375.9 L477.3 377.8 L479.5 379.3 L481.7 381.1 L483.9 383.2 L486.1 385.0 L488.4 385.8 L490.6 386.8 L492.8 388.0 L495.0 389.0 L497.2 388.7 L499.4 388.4 L500.9 388.2 L502.4 389.0 L504.6 389.5 L506.8 390.1 L509.0 388.7 L510.5 388.5 L512.7 389.0 L514.9 390.4 L517.1 389.9 L519.3 389.9 L521.5 389.8 L524.2 391.6 L526.7 390.9 L527.1 390.9 L529.3 390.7 L530.5 390.3 L532.3 391.5 L534.5 392.7 L537.4 393.6 L539.6 393.4 L541.1 393.7 L543.3 393.6 L546.3 393.4 L548.5 392.7 L550.7 392.5 L552.2 392.5 L553.6 392.8 L555.9 392.4 L558.1 392.1 L560.3 392.4 L562.5 392.8 L564.4 392.9 L565.9 392.9 L567.6 392.4 L569.9 391.9 L572.1 390.7 L574.3 389.7 L576.5 388.7 L578.0 387.9 L580.2 388.0 L581.6 388.4 L583.1 389.2 L584.3 389.9 L586.1 389.0 L588.0 388.0 L589.8 386.3 L591.2 386.1 L593.0 386.0 L594.9 386.3 L596.4 386.7 L598.6 386.3 L600.1 386.5 L602.3 386.5 L604.2 387.1 L605.7 386.7 L607.4 386.8 L609.2 386.8 L611.1 385.8 L613.3 385.7 L615.1 385.0 L616.3 384.7 L617.8 385.0 L619.7 384.7 L621.4 385.5 L622.6 386.1 L623.9 385.8 L625.1 386.2 L626.9 384.9 L628.5 385.7 L629.8 386.1 L631.0 385.7 L632.5 386.5 L634.0 386.0 L635.4 385.1 L636.9 385.5 L638.7 386.2 L640.2 386.5 L641.3 387.3 L642.5 388.0 L644.3 387.8 L646.0 388.4 L648.0 387.3 L649.4 387.2 L650.9 386.5 L652.4 386.1 L654.3 386.2 L655.8 386.1 L657.1 387.0 L658.3 387.6 L660.2 386.7 L662.0 386.2 L663.7 386.3 L665.6 386.8 L667.1 387.8 L669.0 387.1 L670.8 387.3 L672.3 387.7 L674.0 388.2 L676.0 388.0 L677.9 387.5 L679.4 387.2 L680.4 388.2 L681.9 389.4 L683.8 390.3 L685.5 391.0 L687.0 390.4 L689.2 389.0 L691.4 387.2 L693.6 384.8 L694.8 383.9 L696.3 384.2 L697.6 384.1 L698.8 384.0 L700.3 385.6 L701.5 386.0 L702.5 385.8 L704.0 386.7 L706.2 387.5 L707.6 387.2 L709.9 386.8 L712.1 387.2 L714.0 387.7 L715.8 387.0 L717.2 385.8 L718.7 385.8 L720.2 385.8 L719.9 385.8 L721.4 386.5 L723.6 388.0 L725.8 389.2 L728.0 390.2 L729.5 390.8 L731.4 389.5 L732.9 389.2 L734.6 388.6 L736.4 388.8 L738.3 389.2 L739.8 389.5 L742.0 390.4 L743.9 391.2 L745.7 390.9 L747.2 390.7 L748.6 391.0 L750.1 391.4 L752.0 391.3 L753.5 391.5 L755.3 391.1 L756.7 391.9 L758.5 392.3 L760.4 391.2 L762.6 390.2 L764.5 390.4 L766.3 390.1 L768.5 389.4 L770.0 388.9 L771.5 388.2 L773.2 389.5 L775.2 389.1 L776.2 388.9 L777.4 387.2 L778.8 385.2 L780.3 383.2 L781.8 381.8 L783.6 383.5 L785.0 383.0 L786.5 383.2 L787.7 382.1 L789.2 381.3 L791.4 381.6 L792.8 382.0 L794.3 382.6 L796.2 382.8 L798.0 382.8 L799.2 383.2 L800.6 384.5 L802.4 385.8 L803.6 386.9 L805.4 386.7 L806.8 387.7 L808.6 387.7 L810.1 388.9 L811.3 389.4 L813.0 389.3 L814.2 389.6 L815.7 388.4 L816.9 387.1 L818.3 387.0 L820.1 385.8 L821.6 386.2 L823.0 387.0 L824.8 387.5 L826.3 386.9 L827.8 386.2 L829.2 383.8 L830.7 382.0 L832.2 382.1 L833.4 381.9 L835.6 383.0 L837.0 382.1 L839.0 382.0 L840.7 381.3 L842.9 380.1 L844.4 379.1 L845.9 378.0 L846.9 378.1 L848.1 379.8 L849.3 381.5 L850.3 382.0 L851.5 383.2 L852.5 384.1 L854.0 383.3 L855.2 382.8 L856.9 383.1 L858.7 383.7 L860.2 384.7 L861.7 385.2 L863.6 385.1 L865.5 384.7 L866.8 384.2 L868.4 385.3 L870.2 385.7 L872.4 385.7 L873.9 384.5 L875.8 384.0 L876.8 384.1 L878.3 384.8 L879.8 384.7 L881.3 383.5 L883.2 382.4 L884.9 383.2 L886.4 384.0 L888.2 384.9 L889.4 384.0 L890.8 383.1 L892.3 383.7 L893.8 384.3 L895.3 384.8 L896.7 385.4 L898.2 383.8 L900.0 381.5 L901.4 380.0 L902.6 380.1 L904.1 381.3 L905.6 382.8 L907.0 384.8 L908.5 386.2 L910.3 387.2 L911.9 387.9 L913.7 387.4 L914.9 387.2 L916.6 386.8 L918.1 386.7 L920.0 387.5 L921.9 388.0 L923.7 389.4 L925.9 389.5 L928.1 389.5 L929.6 389.5 L931.1 388.5 L932.6 387.5 L933.7 388.0 L935.5 385.5 L937.7 384.8 L939.2 383.7 L940.7 383.8 L942.1 384.8 L944.0 384.9 L945.8 383.8 L947.6 383.0 L949.5 382.5 L951.0 382.6 L952.0 383.4 L953.5 382.5 L955.4 382.5 L956.9 382.8 L958.3 382.6 L959.8 383.5 L961.3 382.6 L962.8 381.1 L964.2 380.3 L965.7 380.5 L967.2 381.4 L968.7 382.3 L970.1 383.1 L972.1 382.5 L973.5 381.9 L974.6 381.6 L975.6 382.3 L977.5 381.6 L979.0 380.6 L980.5 381.0 L981.5 380.3 L982.7 381.1 L983.8 381.9 L985.3 380.5 L987.1 378.5 L988.6 377.1 L990.0 377.1 L991.5 377.8 L993.0 378.8 L994.5 380.1 L995.9 378.8 L997.1 378.5 L998.1 379.1 L999.6 377.6 L1000.6 376.4 L1002.1 376.6 L1003.3 375.9 L1004.8 374.9 L1005.9 375.8 L1007.4 374.8 L1008.9 373.6 L1010.4 373.7 L1011.4 372.6 L1012.4 371.8 L1013.6 373.4 L1014.8 374.9 L1016.6 373.9 L1017.7 374.6 L1019.5 374.9 L1021.0 375.3 L1022.2 377.1 L1023.6 378.5 L1025.4 379.5 L1026.6 380.1 L1028.1 379.1 L1029.1 379.1 L1030.1 379.8 L1031.3 378.6 L1032.5 377.8 L1033.9 378.4 L1035.4 378.6 L1037.2 379.2 L1038.7 378.2 L1039.8 377.1 L1040.9 377.1 L1041.9 375.4 L1043.4 373.1 L1044.9 371.2 L1046.3 369.4 L1047.8 369.2 L1049.0 367.1 L1050.7 362.6 L1051.9 361.6 L1053.0 357.9 L1054.1 354.5 L1055.2 355.0 L1056.3 357.2 L1057.8 359.9 L1059.3 362.6 L1060.3 363.6 L1061.5 363.1 L1062.7 361.2 L1063.7 356.9 L1064.9 351.5 L1065.9 347.8 L1067.4 345.5 L1068.9 344.1 L1069.9 344.3 L1070.8 346.8 L1071.8 347.0 L1072.9 344.1 L1073.7 340.8 L1074.8 338.4 L1075.8 338.0 L1077.7 338.1 L1078.7 339.1 L1079.6 341.8 L1080.7 343.9 L1081.7 342.4 L1082.9 341.6 L1084.1 342.9 L1085.5 345.1 L1086.6 347.8 L1087.6 350.8 L1088.8 352.7 L1089.9 352.0 L1091.7 352.1 L1093.2 351.8 L1094.4 354.2 L1095.4 355.9 L1096.9 357.0 L1098.3 358.4 L1099.4 359.4 L1100.6 358.5 L1101.3 360.2 L1102.3 362.2 L1103.2 365.0 L1104.7 367.4 L1106.2 370.1 L1107.9 371.7 L1110.1 373.4 L1109.9 372.9 L1111.3 373.8 L1113.5 375.2 L1115.5 374.9 L1116.9 373.1 L1118.4 368.1 L1119.9 364.0 L1120.8 361.0 L1122.2 358.6 L1123.1 357.7 L1124.4 358.6 L1125.8 357.4 L1127.0 353.4 L1128.1 347.3 L1129.3 341.3 L1130.5 336.5 L1131.6 333.3 L1132.8 330.8 L1134.1 329.0 L1135.5 328.6 L1136.4 328.6 L1137.4 327.6 L1138.5 329.2 L1139.9 330.8 L1141.3 331.9 L1142.6 332.9 L1143.8 333.3 L1144.7 331.7 L1145.7 333.5 L1147.0 334.9 L1148.2 338.5 L1149.3 343.3 L1150.5 348.2 L1151.8 353.4 L1152.8 358.2 L1153.7 361.8 L1154.8 365.0 L1156.7 367.3 L1158.2 365.4 L1159.0 362.4 L1160.2 361.8 L1161.5 362.8 L1162.6 365.7 L1164.1 369.1 L1165.1 371.1 L1166.6 371.2 L1167.8 370.8 L1168.8 371.2 L1170.0 370.8 L1171.0 373.1 L1172.5 376.4 L1174.0 378.8 L1175.4 378.6 L1176.9 378.1 L1177.9 377.1 L1179.1 375.4 L1180.3 374.9 L1181.3 376.3 L1182.4 377.8 L1183.5 378.3 L1184.7 378.1 L1186.5 379.1 L1188.0 378.8 L1189.4 378.5 L1190.6 377.1 L1191.6 374.1 L1192.7 371.7 L1193.9 371.1 L1195.0 369.7 L1196.1 368.9 L1197.1 371.7 L1198.3 375.8 L1199.5 378.5 L1200.5 380.8 L1202.0 383.1 L1203.0 380.5 L1204.2 377.8 L1205.3 376.1 L1206.4 373.8 L1207.9 371.8 L1208.9 373.4 L1210.1 374.1 L1211.2 374.3 L1212.3 377.1 L1213.5 379.8 L1214.8 382.1 L1216.0 384.5 L1217.1 385.3 L1218.6 385.0 L1219.6 386.5 L1221.1 388.2 L1222.6 389.0 L1224.1 389.4 L1225.5 387.8 L1226.7 386.2 L1227.7 384.8 L1228.9 383.9 L1230.7 383.8 L1231.9 385.2 L1232.9 385.8 L1233.9 387.2 L1235.1 388.5 L1236.6 389.4 L1238.1 387.8 L1239.2 388.0 L1240.7 386.8 L1242.2 386.2 L1243.2 387.5 L1244.7 390.4 L1246.2 388.9 L1247.6 388.7 L1249.1 387.8 L1250.6 386.2 L1251.6 385.7 L1253.1 385.8 L1254.3 385.3 L1255.7 384.8 L1256.9 385.3 L1258.0 384.8 L1259.0 385.8 L1260.2 385.0 L1261.3 387.2 L1262.4 384.8 L1263.4 386.2 L1264.6 388.5 L1265.8 387.8 L1267.2 389.2 L1268.7 391.7 L1270.2 389.9 L1271.2 388.5 L1272.7 387.2 L1274.2 385.8 L1275.2 385.2 L1276.4 386.2 L1277.6 387.8 L1279.0 389.9 L1280.5 391.4 L1282.3 390.4 L1283.7 388.9 L1284.9 386.8 L1286.0 385.8 L1287.4 386.2 L1288.9 385.8 L1289.9 387.5 L1291.1 389.9 L1292.3 387.8 L1293.8 388.2 L1295.2 388.0 L1296.7 389.2 L1298.2 390.9 L1299.7 392.2 L1301.0 392.9 L1302.2 391.5 L1303.6 390.2 L1305.1 389.5 L1306.6 387.8 L1308.1 387.2 L1308.1 387.2 L1309.6 386.5 L1311.1 387.0 L1312.5 388.5 L1314.0 390.2 L1315.5 391.7 L1317.2 391.9 L1319.2 391.2 L1321.1 390.5 L1322.8 390.4 L1324.3 390.9 L1326.1 392.0 L1328.0 392.7 L1329.5 392.5 L1331.0 393.0 L1332.4 393.4 L1333.9 393.7 L1335.4 393.0 L1336.8 391.5 L1338.3 388.5 L1339.8 385.5 L1340.8 384.5 L1342.3 384.7 L1343.5 386.5 L1345.0 389.2 L1346.4 391.5 L1347.9 392.7 L1349.4 392.2 L1350.8 391.4 L1352.3 390.7 L1353.8 389.9 L1355.0 390.5 L1356.0 390.7 L1357.0 389.2 L1357.9 386.5 L1358.7 383.2 L1359.4 378.1 L1360.1 373.1 L1360.7 370.4"/>
</g>
<text class="lg" x="838.3" y="65.3" fill="#000">Average of all 1D spectra</text>
<text class="lg" x="838.3" y="97.0" fill="#8e8e8e">Average of the 50% most intense 1D spectra</text>
<text class="lg" x="838.3" y="127.4" fill="#0a55b8">Average of the 10% most intense 1D spectra</text>
<path class="tk" d="M145.10 545.65v4.4M145.10 921.3v-4.4M165.53 545.65v4.4M165.53 921.3v-4.4M185.97 545.65v4.4M185.97 921.3v-4.4M206.40 545.65v4.4M206.40 921.3v-4.4M226.84 545.65v4.4M226.84 921.3v-4.4M247.27 545.65v4.4M247.27 921.3v-4.4M267.71 545.65v4.4M267.71 921.3v-4.4M288.14 545.65v4.4M288.14 921.3v-4.4M308.58 545.65v8.0M308.58 921.3v-8.0M329.01 545.65v4.4M329.01 921.3v-4.4M349.45 545.65v4.4M349.45 921.3v-4.4M369.88 545.65v4.4M369.88 921.3v-4.4M390.32 545.65v4.4M390.32 921.3v-4.4M410.75 545.65v4.4M410.75 921.3v-4.4M431.19 545.65v4.4M431.19 921.3v-4.4M451.62 545.65v4.4M451.62 921.3v-4.4M472.06 545.65v4.4M472.06 921.3v-4.4M492.50 545.65v4.4M492.50 921.3v-4.4M512.93 545.65v8.0M512.93 921.3v-8.0M533.37 545.65v4.4M533.37 921.3v-4.4M553.80 545.65v4.4M553.80 921.3v-4.4M574.23 545.65v4.4M574.23 921.3v-4.4M594.67 545.65v4.4M594.67 921.3v-4.4M615.11 545.65v4.4M615.11 921.3v-4.4M635.54 545.65v4.4M635.54 921.3v-4.4M655.97 545.65v4.4M655.97 921.3v-4.4M676.41 545.65v4.4M676.41 921.3v-4.4M696.85 545.65v4.4M696.85 921.3v-4.4M717.28 545.65v8.0M717.28 921.3v-8.0M737.71 545.65v4.4M737.71 921.3v-4.4M758.15 545.65v4.4M758.15 921.3v-4.4M778.59 545.65v4.4M778.59 921.3v-4.4M799.02 545.65v4.4M799.02 921.3v-4.4M819.45 545.65v4.4M819.45 921.3v-4.4M839.89 545.65v4.4M839.89 921.3v-4.4M860.33 545.65v4.4M860.33 921.3v-4.4M880.76 545.65v4.4M880.76 921.3v-4.4M901.19 545.65v4.4M901.19 921.3v-4.4M921.63 545.65v8.0M921.63 921.3v-8.0M942.07 545.65v4.4M942.07 921.3v-4.4M962.50 545.65v4.4M962.50 921.3v-4.4M982.93 545.65v4.4M982.93 921.3v-4.4M1003.37 545.65v4.4M1003.37 921.3v-4.4M1023.80 545.65v4.4M1023.80 921.3v-4.4M1044.24 545.65v4.4M1044.24 921.3v-4.4M1064.67 545.65v4.4M1064.67 921.3v-4.4M1085.11 545.65v4.4M1085.11 921.3v-4.4M1105.54 545.65v4.4M1105.54 921.3v-4.4M1125.98 545.65v8.0M1125.98 921.3v-8.0M1146.41 545.65v4.4M1146.41 921.3v-4.4M1166.85 545.65v4.4M1166.85 921.3v-4.4M1187.28 545.65v4.4M1187.28 921.3v-4.4M1207.72 545.65v4.4M1207.72 921.3v-4.4M1228.15 545.65v4.4M1228.15 921.3v-4.4M1248.59 545.65v4.4M1248.59 921.3v-4.4M1269.02 545.65v4.4M1269.02 921.3v-4.4M1289.46 545.65v4.4M1289.46 921.3v-4.4M1309.89 545.65v4.4M1309.89 921.3v-4.4M1330.33 545.65v8.0M1330.33 921.3v-8.0M1350.76 545.65v4.4M1350.76 921.3v-4.4M140.5 902.52h12.5M1360.85 902.52h-12.5M140.5 883.73h12.5M1360.85 883.73h-12.5M140.5 864.95h12.5M1360.85 864.95h-12.5M140.5 827.39h12.5M1360.85 827.39h-12.5M140.5 808.61h12.5M1360.85 808.61h-12.5M140.5 789.82h12.5M1360.85 789.82h-12.5M140.5 752.26h12.5M1360.85 752.26h-12.5M140.5 733.47h12.5M1360.85 733.47h-12.5M140.5 714.69h12.5M1360.85 714.69h-12.5M140.5 677.13h12.5M1360.85 677.13h-12.5M140.5 658.35h12.5M1360.85 658.35h-12.5M140.5 639.56h12.5M1360.85 639.56h-12.5M140.5 602.00h12.5M1360.85 602.00h-12.5M140.5 583.21h12.5M1360.85 583.21h-12.5M140.5 564.43h12.5M1360.85 564.43h-12.5M140.5 921.30h24.5M1360.85 921.30h-24.5M140.5 846.17h24.5M1360.85 846.17h-24.5M140.5 771.04h24.5M1360.85 771.04h-24.5M140.5 695.91h24.5M1360.85 695.91h-24.5M140.5 620.78h24.5M1360.85 620.78h-24.5M140.5 545.65h24.5M1360.85 545.65h-24.5"/>
<rect class="fr" x="140.5" y="545.65" width="1220.35" height="375.65"/>
<text class="ax" transform="translate(132.4 921.30) scale(1 1.06)" text-anchor="end">0</text>
<text class="ax" transform="translate(132.4 857.07) scale(1 1.06)" text-anchor="end">200</text>
<text class="ax" transform="translate(132.4 781.94) scale(1 1.06)" text-anchor="end">400</text>
<text class="ax" transform="translate(132.4 706.81) scale(1 1.06)" text-anchor="end">600</text>
<text class="ax" transform="translate(132.4 631.68) scale(1 1.06)" text-anchor="end">800</text>
<text class="ax" transform="translate(132.4 563.85) scale(1 1.06)" text-anchor="end">1000</text>
<text class="ax" transform="translate(308.58 958.80) scale(1 1.06)" text-anchor="middle">1200</text>
<text class="ax" transform="translate(512.93 958.80) scale(1 1.06)" text-anchor="middle">1300</text>
<text class="ax" transform="translate(717.28 958.80) scale(1 1.06)" text-anchor="middle">1400</text>
<text class="ax" transform="translate(921.63 958.80) scale(1 1.06)" text-anchor="middle">1500</text>
<text class="ax" transform="translate(1125.98 958.80) scale(1 1.06)" text-anchor="middle">1600</text>
<text class="ax" transform="translate(1330.33 958.80) scale(1 1.06)" text-anchor="middle">1700</text>
<text class="ax" transform="translate(750.47 990.90) scale(1 1.06)" text-anchor="middle">Wavelength (Angstrom)</text>
<text class="ax" transform="translate(41.6 734.07) rotate(-90) scale(1 1.06)" text-anchor="middle">Flux (R/A)</text>
<g clip-path="url(#c2)">
<path class="c" stroke="#000" d="M140.6 919.1 L141.3 902.6 L142.3 887.1 L144.2 886.0 L146.3 886.6 L147.6 879.9 L148.8 883.2 L149.9 890.2 L151.4 890.7 L152.4 892.4 L153.5 886.0 L154.8 875.2 L156.0 869.5 L157.6 870.6 L158.8 875.2 L160.2 883.0 L161.5 891.2 L162.5 890.2 L163.6 888.1 L164.3 887.6 L165.3 888.1 L166.4 885.5 L167.9 887.1 L169.4 881.9 L170.5 879.9 L171.5 878.8 L172.5 874.7 L173.6 863.3 L174.6 862.3 L175.6 854.1 L177.2 845.8 L178.7 848.9 L179.8 861.3 L180.8 874.7 L182.0 884.0 L183.4 877.8 L184.9 861.3 L186.5 847.9 L187.5 851.0 L188.5 863.3 L189.5 875.7 L190.6 884.0 L191.6 887.6 L193.2 884.0 L194.7 880.4 L195.7 884.0 L197.3 892.2 L199.9 898.4 L203.0 903.6 L206.0 907.7 L210.2 909.8 L213.3 908.7 L214.5 906.3 L217.5 901.8 L220.4 898.9 L223.4 897.7 L227.1 897.4 L229.3 897.1 L231.8 896.8 L233.7 897.7 L235.9 900.4 L238.1 903.0 L240.3 904.8 L242.5 905.5 L244.7 903.3 L246.9 900.4 L249.2 898.1 L251.4 897.4 L254.3 897.7 L256.5 898.6 L258.7 900.1 L260.9 900.7 L263.2 901.1 L265.4 901.8 L266.8 901.4 L268.3 902.1 L270.5 902.3 L272.7 903.0 L274.9 902.7 L277.2 903.6 L279.4 903.3 L281.6 904.2 L283.1 903.9 L285.3 904.5 L288.2 905.1 L290.4 905.7 L292.6 904.5 L294.8 904.0 L297.1 903.7 L298.8 905.2 L301.5 905.2 L303.7 904.8 L305.9 903.0 L308.1 899.6 L310.3 895.2 L311.8 893.4 L314.0 892.2 L316.2 892.2 L318.4 891.8 L320.6 890.5 L322.1 886.3 L323.7 870.9 L325.1 841.3 L325.9 804.5 L326.5 775.0 L328.7 501.5 L329.5 454.0 L328.2 541.6 L329.0 465.2 L330.0 335.7 L331.2 238.6 L332.3 180.4 L333.4 164.2 L334.8 160.9 L336.8 167.4 L339.3 183.6 L342.2 203.0 L345.2 222.4 L348.1 235.4 L349.3 258.0 L350.0 296.9 L351.0 368.1 L352.1 452.3 L353.3 541.6 L352.4 454.0 L353.0 525.3 L355.7 775.0 L356.2 819.2 L356.9 856.1 L357.9 875.3 L359.4 887.1 L361.6 895.2 L364.6 900.4 L368.2 903.3 L371.9 904.8 L374.9 904.3 L377.1 903.3 L379.3 903.6 L381.5 905.1 L383.7 907.3 L386.7 908.8 L388.9 907.7 L391.8 906.3 L395.5 905.1 L398.5 904.8 L402.1 904.5 L405.1 903.0 L408.0 900.7 L411.0 899.3 L413.2 899.0 L415.4 899.6 L418.3 900.8 L421.3 900.8 L424.2 902.1 L427.2 903.6 L430.1 904.8 L433.1 905.2 L436.0 906.3 L439.7 907.3 L443.4 908.0 L447.1 908.2 L450.0 907.4 L453.0 906.6 L455.9 905.1 L458.9 904.3 L461.8 904.0 L464.8 904.5 L467.7 904.8 L469.9 906.3 L472.9 908.2 L476.6 909.9 L480.2 911.1 L483.9 912.5 L487.6 913.6 L491.3 914.4 L495.0 915.4 L499.4 916.1 L503.8 916.6 L508.2 916.6 L512.7 917.0 L517.1 917.3 L521.5 917.3 L525.9 917.2 L527.9 916.9 L530.8 917.0 L533.8 918.4 L536.7 919.2 L541.1 918.8 L547.0 918.5 L554.4 918.1 L561.8 918.1 L569.1 918.1 L572.1 917.0 L575.0 915.8 L578.0 915.1 L582.4 915.6 L586.8 915.1 L590.5 914.1 L594.2 913.9 L598.6 914.4 L603.0 914.1 L607.4 914.4 L611.9 913.9 L616.3 913.2 L620.7 913.9 L625.1 913.6 L629.5 914.1 L634.0 913.6 L638.4 914.4 L642.8 915.1 L647.2 914.8 L651.6 914.4 L656.1 914.1 L661.2 913.6 L665.6 914.4 L670.1 914.4 L674.5 915.1 L678.9 915.1 L682.6 916.1 L685.5 916.6 L688.5 915.8 L692.2 914.4 L695.9 913.6 L699.5 913.6 L703.2 914.4 L707.6 914.4 L712.1 914.7 L716.5 913.9 L719.4 913.6 L719.9 913.6 L723.6 915.1 L727.3 916.3 L730.9 916.9 L734.6 916.6 L739.0 916.9 L743.5 917.3 L749.4 917.8 L755.3 917.6 L761.2 917.3 L767.0 916.9 L771.5 916.3 L775.2 915.8 L778.1 914.4 L780.3 912.9 L782.5 912.5 L784.7 912.9 L786.9 911.9 L789.2 911.4 L791.4 911.1 L793.6 912.2 L795.8 912.6 L798.0 912.2 L800.2 912.9 L803.2 913.9 L806.8 914.8 L810.5 915.6 L814.2 915.8 L817.2 914.8 L820.8 914.4 L824.5 914.4 L827.5 913.6 L830.4 912.5 L833.4 912.2 L836.3 911.4 L839.3 911.0 L842.2 909.9 L845.2 909.5 L846.9 909.9 L848.8 911.9 L851.0 912.2 L853.3 911.4 L855.5 911.0 L857.7 911.9 L860.6 912.9 L863.6 913.6 L867.3 913.9 L870.9 913.9 L874.6 912.9 L878.3 913.6 L882.0 913.2 L885.7 913.6 L889.4 913.2 L892.3 912.9 L895.3 913.3 L898.2 912.2 L901.2 910.7 L903.4 911.0 L905.6 912.5 L908.5 913.9 L912.2 914.7 L914.9 914.4 L917.8 914.4 L920.8 915.1 L923.7 916.3 L926.7 917.0 L929.3 917.3 L931.8 915.8 L934.8 914.4 L938.4 913.9 L942.9 913.6 L947.3 912.9 L951.7 912.6 L956.1 913.2 L960.6 913.3 L963.5 912.2 L966.4 911.4 L970.1 911.9 L973.8 911.0 L976.8 911.4 L979.7 910.7 L982.7 911.0 L985.6 909.9 L988.6 908.5 L991.5 908.9 L995.2 908.9 L998.9 908.2 L1001.8 907.4 L1004.8 906.0 L1007.7 904.0 L1010.7 901.5 L1012.9 900.1 L1015.1 900.4 L1017.3 899.3 L1019.5 900.4 L1021.7 902.1 L1023.9 903.0 L1026.1 901.8 L1029.1 900.7 L1032.0 899.6 L1035.0 898.9 L1037.2 898.1 L1038.7 896.2 L1040.4 897.7 L1042.3 895.6 L1044.6 893.0 L1046.8 890.8 L1049.0 888.6 L1051.2 884.1 L1053.4 879.4 L1055.2 878.7 L1057.1 881.9 L1059.3 884.9 L1061.9 888.9 L1063.4 884.1 L1065.2 879.7 L1067.4 876.8 L1068.9 875.7 L1070.8 878.2 L1072.6 876.0 L1074.0 872.3 L1075.8 870.9 L1077.7 871.6 L1079.2 873.5 L1080.7 876.0 L1082.9 873.5 L1085.1 874.1 L1087.3 875.6 L1089.5 876.5 L1091.0 875.7 L1093.2 877.9 L1096.1 879.7 L1099.1 881.9 L1101.3 883.4 L1103.5 885.3 L1105.7 884.9 L1107.9 887.1 L1109.9 885.6 L1112.1 887.8 L1114.3 890.0 L1116.0 890.8 L1118.0 888.6 L1119.9 884.9 L1121.9 881.2 L1123.9 879.0 L1125.8 878.2 L1127.8 873.8 L1129.7 869.4 L1131.7 864.2 L1133.4 862.3 L1135.6 862.7 L1137.6 863.2 L1139.0 864.2 L1140.8 862.7 L1143.0 861.7 L1144.9 862.0 L1147.0 860.8 L1148.9 864.2 L1150.8 867.2 L1152.6 873.1 L1154.1 876.8 L1155.8 880.4 L1157.7 882.9 L1159.7 882.7 L1161.4 884.9 L1163.6 885.6 L1165.1 887.8 L1167.0 886.3 L1168.8 887.8 L1171.0 888.3 L1173.2 890.3 L1175.4 889.3 L1177.6 887.4 L1179.4 886.3 L1181.3 887.4 L1183.2 890.8 L1185.0 892.2 L1186.8 890.8 L1188.7 887.8 L1190.6 884.9 L1192.4 883.8 L1193.9 881.9 L1195.6 879.4 L1197.1 880.9 L1199.0 883.8 L1200.9 886.3 L1202.7 884.1 L1204.5 880.4 L1206.4 876.0 L1207.9 876.8 L1209.8 878.2 L1211.5 879.7 L1213.7 880.0 L1216.0 879.4 L1217.7 881.9 L1219.6 884.9 L1221.6 887.4 L1223.3 890.0 L1225.1 890.8 L1227.0 891.8 L1228.5 887.1 L1230.0 881.9 L1231.9 880.4 L1233.6 878.2 L1235.4 876.8 L1237.3 875.3 L1238.8 873.1 L1240.3 869.7 L1242.5 870.1 L1244.3 872.3 L1245.7 875.0 L1247.6 876.0 L1249.6 875.3 L1251.3 874.5 L1253.1 876.0 L1255.0 878.2 L1256.9 880.4 L1258.7 882.7 L1260.5 884.9 L1261.9 885.9 L1263.9 884.1 L1265.8 882.9 L1267.2 881.9 L1269.0 884.9 L1270.5 887.1 L1272.3 885.3 L1274.2 883.4 L1276.1 881.9 L1277.6 882.7 L1279.3 887.1 L1280.8 889.3 L1282.6 888.3 L1284.5 886.3 L1286.0 882.7 L1287.9 880.4 L1289.6 880.0 L1291.4 879.0 L1293.3 875.3 L1294.8 873.1 L1296.3 872.0 L1297.7 875.3 L1299.7 879.7 L1301.4 882.7 L1303.2 881.9 L1305.1 880.4 L1306.6 879.7 L1308.1 881.2 L1309.9 880.4 L1311.8 876.8 L1313.7 872.3 L1315.5 868.6 L1317.2 867.2 L1318.7 863.5 L1320.6 864.2 L1322.6 862.7 L1324.0 861.3 L1325.8 863.5 L1327.6 864.2 L1329.5 867.9 L1331.0 871.6 L1332.9 873.1 L1334.6 873.5 L1336.4 871.6 L1337.9 866.4 L1339.4 861.3 L1340.8 857.9 L1342.0 857.6 L1343.5 860.5 L1345.0 862.7 L1346.7 865.0 L1348.2 863.5 L1350.1 863.2 L1352.0 864.2 L1353.8 864.2 L1355.3 867.9 L1356.4 866.4 L1357.5 857.6 L1358.5 834.0 L1359.7 811.8 L1360.9 793.4"/>
<path class="c" stroke="#969696" d="M140.5 921.0 L141.6 893.0 L143.1 869.4 L144.5 851.7 L146.0 845.8 L147.9 842.1 L148.9 851.7 L149.7 866.4 L151.2 863.5 L153.4 857.6 L154.8 839.9 L156.3 831.0 L157.8 833.2 L159.3 832.5 L160.7 857.6 L162.2 868.6 L163.7 862.0 L165.2 859.1 L166.6 855.4 L168.1 859.8 L170.3 861.3 L172.5 848.7 L174.0 836.9 L175.5 819.2 L176.9 794.1 L178.0 788.2 L179.2 804.5 L180.6 834.0 L181.8 847.2 L183.6 834.0 L185.8 819.2 L186.8 814.1 L188.0 834.0 L189.5 857.6 L190.9 871.6 L193.2 865.7 L194.6 863.5 L196.1 870.9 L197.6 881.2 L199.8 890.0 L202.7 897.4 L205.7 901.8 L208.6 903.0 L211.6 901.5 L214.5 897.4 L217.5 888.6 L219.7 883.4 L221.9 879.7 L224.8 879.0 L227.1 877.5 L229.3 876.8 L231.8 876.0 L233.7 878.2 L235.9 884.1 L238.1 889.3 L240.3 892.2 L242.5 893.0 L244.7 890.0 L246.9 883.4 L249.2 879.0 L251.4 877.5 L254.3 877.2 L256.5 879.0 L258.7 881.9 L260.9 884.1 L263.2 883.8 L265.4 884.9 L266.8 884.1 L268.3 885.9 L270.5 887.1 L272.7 888.9 L274.9 887.8 L277.2 888.9 L279.4 887.8 L281.6 888.6 L283.1 887.8 L285.3 890.0 L288.2 892.2 L290.4 893.4 L292.6 891.5 L294.8 890.8 L297.1 890.0 L298.8 893.7 L301.5 893.4 L303.7 893.0 L305.9 888.6 L308.1 882.7 L310.3 876.8 L311.8 873.8 L314.0 872.3 L316.2 872.0 L318.4 870.9 L320.6 870.1 L322.1 865.0 L323.6 851.7 L324.8 831.0 L325.5 804.5 L326.1 775.0 L328.0 525.3 L328.8 454.0 L329.4 400.5 L330.4 141.5 L331.6 -117.5 L331.9 -95.8 L332.3 -139.8 L333.1 -175.4 L334.6 -185.1 L336.3 -175.4 L338.5 -156.0 L340.7 -133.3 L342.9 -110.7 L344.4 -95.8 L342.2 -117.5 L344.4 -91.6 L346.6 -65.7 L348.5 -33.3 L349.6 12.0 L350.3 76.8 L351.5 206.3 L352.5 335.7 L353.5 465.2 L354.0 541.6 L353.5 454.0 L354.0 525.3 L356.7 819.2 L357.6 844.3 L358.7 860.5 L360.1 870.9 L362.3 879.7 L365.3 885.6 L369.0 890.8 L371.9 892.7 L374.1 891.5 L377.1 888.9 L379.3 888.6 L381.5 891.5 L383.7 895.9 L386.7 899.3 L388.9 897.4 L391.8 893.7 L395.5 890.5 L398.5 889.7 L402.1 889.3 L405.1 886.3 L408.0 881.9 L411.0 879.4 L413.2 878.7 L415.4 880.0 L417.6 882.7 L420.6 883.4 L423.5 885.6 L426.5 887.8 L430.1 890.8 L433.8 893.0 L437.5 894.8 L441.2 895.9 L444.9 896.7 L447.8 896.4 L450.8 894.8 L453.7 893.0 L456.7 890.8 L458.9 888.9 L461.1 887.8 L463.3 888.6 L465.5 888.9 L468.5 890.8 L470.7 893.7 L473.6 897.4 L477.3 901.1 L481.0 904.0 L484.7 906.3 L488.4 908.2 L492.0 909.5 L495.7 910.7 L499.4 911.7 L503.1 912.5 L506.8 913.2 L509.0 912.2 L511.2 913.2 L515.6 913.6 L520.0 913.9 L524.5 914.4 L524.9 914.4 L527.9 913.6 L530.8 914.4 L533.8 916.6 L536.7 918.1 L539.6 917.8 L544.1 917.0 L548.5 916.9 L552.9 916.3 L557.3 916.1 L561.8 916.6 L566.2 916.9 L569.9 916.3 L572.1 914.4 L575.0 912.5 L578.0 911.4 L581.6 912.2 L584.6 912.9 L587.5 911.4 L590.5 909.5 L592.7 908.9 L595.6 909.5 L598.6 909.2 L601.5 909.5 L604.5 908.9 L607.4 909.2 L610.4 908.9 L613.3 907.7 L616.3 907.0 L619.2 907.7 L622.2 908.5 L625.1 908.2 L628.1 908.9 L631.0 909.2 L634.7 907.4 L637.6 908.5 L640.6 909.5 L643.5 910.4 L646.5 910.2 L649.4 908.9 L652.4 908.9 L656.1 908.5 L659.0 908.5 L662.0 907.4 L664.9 908.5 L667.9 909.5 L670.8 909.2 L673.8 910.2 L676.7 909.9 L679.6 910.7 L682.6 912.5 L685.5 913.6 L688.5 912.2 L691.4 909.2 L694.4 907.4 L697.3 907.4 L699.5 907.0 L701.8 908.5 L704.7 908.9 L707.6 909.5 L710.6 909.2 L713.5 910.4 L716.5 908.5 L719.4 907.7 L719.9 907.7 L722.8 909.9 L725.8 911.9 L729.5 913.2 L733.2 912.2 L736.8 912.5 L740.5 913.3 L744.9 913.9 L749.4 914.4 L753.8 914.7 L758.2 914.8 L762.6 914.1 L767.0 913.3 L771.5 912.2 L775.2 911.9 L777.4 909.9 L779.6 907.0 L781.8 904.8 L784.0 905.5 L786.2 904.0 L788.4 902.1 L790.6 901.5 L792.8 902.6 L795.0 904.0 L797.3 904.5 L799.5 904.0 L801.7 905.5 L803.9 907.0 L806.1 908.5 L808.3 909.9 L811.3 911.0 L814.2 911.4 L816.4 909.9 L818.6 909.5 L820.8 908.9 L823.0 909.5 L825.3 908.5 L827.5 907.0 L829.7 904.8 L831.9 904.5 L834.1 903.6 L836.3 904.8 L838.5 903.3 L840.7 903.0 L842.9 901.1 L845.2 899.6 L846.6 899.3 L848.1 902.6 L850.3 904.5 L852.5 904.8 L854.7 903.3 L856.9 904.5 L859.2 906.0 L861.4 907.4 L863.6 907.7 L865.8 908.5 L868.0 908.9 L870.2 908.5 L872.4 907.0 L874.6 905.5 L876.8 906.0 L879.0 906.7 L881.3 906.0 L883.5 905.1 L885.7 906.3 L887.9 906.7 L890.1 905.5 L892.3 906.0 L894.5 906.3 L896.7 905.5 L898.9 903.0 L901.2 901.5 L903.4 902.1 L905.6 904.8 L907.8 907.4 L910.0 908.9 L912.9 909.5 L914.9 909.2 L917.8 909.2 L920.8 910.7 L923.7 912.5 L926.7 913.6 L929.3 914.1 L931.1 912.2 L933.3 909.2 L935.5 907.0 L938.4 907.4 L941.4 907.0 L944.3 906.7 L946.6 906.0 L948.8 905.2 L951.7 905.5 L954.7 906.0 L957.6 906.3 L959.8 906.0 L962.0 904.0 L965.0 901.5 L967.2 903.0 L969.4 904.8 L971.6 903.3 L973.8 901.5 L976.0 903.0 L978.2 902.6 L980.5 901.5 L982.7 901.1 L984.9 901.8 L987.1 898.9 L989.3 896.2 L991.5 897.1 L994.5 898.6 L997.4 897.7 L1000.3 896.2 L1003.3 894.2 L1006.2 891.5 L1008.5 887.1 L1010.7 883.4 L1012.9 880.9 L1014.3 882.4 L1016.6 880.1 L1018.0 880.0 L1020.2 882.7 L1022.5 885.6 L1024.2 886.3 L1026.1 884.1 L1028.3 881.5 L1030.6 879.7 L1032.8 878.2 L1035.0 876.8 L1036.9 877.0 L1038.7 872.6 L1040.4 876.5 L1042.3 873.1 L1044.6 867.9 L1046.8 862.7 L1048.2 860.5 L1050.2 854.6 L1051.9 847.2 L1053.7 839.9 L1055.2 838.4 L1056.6 842.1 L1058.6 848.7 L1060.5 855.4 L1062.2 859.8 L1063.7 851.7 L1065.2 843.6 L1066.7 836.9 L1068.9 832.2 L1070.3 838.4 L1072.3 834.7 L1073.7 828.1 L1075.5 825.1 L1077.0 825.4 L1078.7 828.1 L1080.7 831.8 L1082.9 828.8 L1085.1 829.5 L1087.3 831.8 L1089.5 834.0 L1091.0 832.5 L1093.2 836.9 L1095.4 839.1 L1097.6 842.8 L1099.8 845.8 L1101.3 845.0 L1103.5 849.5 L1105.7 853.1 L1107.9 856.1 L1109.9 854.6 L1112.1 858.3 L1114.3 861.3 L1116.0 862.7 L1118.0 859.1 L1120.2 851.7 L1122.4 844.3 L1124.6 839.9 L1126.4 836.9 L1128.3 826.6 L1130.2 816.3 L1132.0 808.9 L1133.7 806.7 L1136.1 807.1 L1138.1 810.1 L1140.1 808.2 L1141.5 805.9 L1143.5 804.2 L1145.2 805.9 L1147.0 805.6 L1148.5 809.6 L1150.4 814.8 L1151.9 822.2 L1153.3 831.0 L1154.8 838.4 L1156.7 845.8 L1158.5 848.0 L1160.3 847.2 L1161.7 850.9 L1163.6 851.7 L1165.6 856.1 L1167.3 853.9 L1168.8 856.1 L1171.0 857.6 L1172.9 860.5 L1174.7 861.3 L1176.9 857.6 L1178.8 853.9 L1180.3 852.4 L1182.1 855.4 L1183.5 862.0 L1185.0 864.2 L1186.8 862.0 L1188.7 857.6 L1190.6 853.1 L1192.4 849.5 L1194.1 844.3 L1195.6 840.6 L1197.5 842.1 L1199.0 844.3 L1200.9 847.2 L1202.7 841.3 L1204.2 836.2 L1205.9 834.0 L1207.4 835.4 L1209.3 836.9 L1211.2 839.1 L1213.0 841.3 L1214.8 841.1 L1216.3 840.6 L1217.7 845.8 L1219.6 850.2 L1221.6 856.1 L1223.3 860.2 L1224.8 861.3 L1226.3 863.5 L1227.7 859.8 L1229.2 851.7 L1231.0 844.3 L1232.9 839.9 L1234.8 835.4 L1236.6 831.8 L1238.4 825.9 L1240.3 821.9 L1242.2 823.4 L1243.7 825.9 L1245.4 831.0 L1247.2 834.7 L1249.1 831.8 L1251.0 830.3 L1252.8 831.8 L1254.6 835.4 L1256.5 839.1 L1258.4 842.8 L1260.2 845.8 L1261.9 848.7 L1263.4 848.0 L1264.9 850.2 L1266.4 848.7 L1267.5 847.2 L1269.0 852.4 L1270.8 855.8 L1272.3 853.1 L1273.7 848.7 L1275.2 845.0 L1276.7 842.8 L1278.1 850.2 L1279.6 856.8 L1281.5 855.4 L1283.5 852.4 L1284.9 847.2 L1286.4 843.6 L1288.2 841.1 L1289.9 840.6 L1291.9 839.1 L1293.3 835.4 L1294.8 829.5 L1296.3 826.3 L1297.7 832.5 L1299.2 842.1 L1300.7 847.2 L1302.6 846.5 L1304.4 843.6 L1305.9 841.3 L1307.3 844.3 L1308.1 844.3 L1309.9 839.9 L1311.8 834.0 L1313.7 825.9 L1315.5 819.2 L1317.2 816.3 L1318.7 808.2 L1320.2 810.4 L1322.1 806.7 L1323.9 803.7 L1325.5 807.4 L1327.3 808.6 L1328.7 813.3 L1330.2 822.2 L1331.7 828.8 L1333.2 832.5 L1334.9 830.3 L1336.4 825.1 L1337.9 814.8 L1339.4 804.5 L1340.8 796.4 L1342.0 795.6 L1343.5 801.5 L1345.0 808.2 L1346.7 813.3 L1348.2 810.4 L1349.4 805.9 L1350.8 806.7 L1352.3 806.2 L1353.8 808.2 L1355.0 814.1 L1356.4 814.8 L1357.5 804.5 L1358.5 786.8 L1359.4 775.0 L1360.1 738.1 L1360.7 701.2"/>
<path class="c" stroke="#1059b8" d="M140.5 921.0 L141.6 893.0 L143.1 857.6 L144.5 838.4 L145.6 841.3 L147.5 806.7 L148.5 823.6 L149.7 827.3 L150.9 829.5 L151.9 857.6 L153.4 875.3 L154.8 854.6 L155.6 847.2 L157.1 867.2 L158.5 867.9 L160.0 887.1 L161.5 911.4 L162.9 890.0 L164.4 869.4 L165.6 851.7 L166.6 832.5 L168.1 832.5 L169.6 851.7 L171.1 865.7 L172.5 834.0 L173.6 789.7 L174.0 759.6 L175.5 733.1 L176.9 699.2 L178.0 712.4 L179.2 747.8 L179.9 797.1 L180.9 814.8 L182.1 797.1 L182.8 733.1 L184.0 688.8 L185.1 644.6 L186.5 605.3 L187.7 629.8 L188.3 659.3 L189.2 703.6 L190.2 747.8 L190.7 767.8 L191.7 763.3 L192.9 769.2 L193.9 765.5 L194.9 756.7 L196.1 762.6 L196.8 774.4 L197.6 798.6 L198.6 799.3 L200.5 808.9 L202.7 820.7 L204.9 839.9 L207.2 854.6 L208.3 861.3 L210.8 859.8 L213.1 851.7 L215.3 836.9 L216.7 816.3 L218.2 797.1 L220.4 789.0 L221.6 771.4 L222.6 768.5 L223.8 770.7 L224.8 767.0 L226.3 761.6 L227.8 764.8 L229.3 767.0 L230.7 765.5 L232.2 767.8 L233.7 772.9 L236.6 788.2 L238.1 803.0 L239.9 819.2 L241.8 824.4 L243.0 827.8 L244.7 814.8 L246.9 794.1 L249.2 770.0 L250.3 759.6 L251.4 758.2 L252.8 750.8 L254.0 748.6 L255.1 748.6 L256.1 758.2 L257.3 763.3 L258.4 765.5 L259.5 774.4 L260.5 787.5 L262.4 787.5 L264.3 793.4 L265.4 795.6 L266.4 791.9 L268.3 798.6 L269.8 801.2 L271.3 800.8 L272.7 803.0 L274.7 794.9 L276.4 798.6 L278.6 801.5 L280.8 811.1 L282.3 809.6 L285.3 816.3 L288.2 823.6 L290.7 834.0 L292.6 823.6 L294.1 822.9 L295.3 825.1 L296.6 823.6 L297.8 834.0 L299.7 850.9 L302.2 844.3 L303.7 839.9 L305.9 825.1 L308.1 804.5 L310.3 779.4 L310.6 771.4 L311.8 764.1 L313.3 764.8 L314.0 763.3 L315.5 767.8 L316.7 767.8 L317.7 772.9 L318.9 780.1 L320.3 781.6 L322.1 775.9 L323.3 771.4 L324.3 755.2 L325.1 718.3 L325.8 674.1 L326.5 629.8 L326.5 454.0 L328.5 -95.8 L329.0 -236.9 L329.7 -398.8 L330.9 -560.6 L331.9 -657.7 L332.6 -709.5 L333.7 -730.3 L334.8 -730.3 L335.6 -716.0 L336.8 -677.2 L338.2 -625.4 L339.7 -593.0 L341.5 -547.7 L343.2 -508.8 L345.2 -476.5 L346.6 -437.6 L348.1 -411.7 L349.1 -372.9 L349.9 -314.6 L350.6 -236.9 L351.5 -139.8 L352.5 12.0 L353.5 206.3 L354.4 400.5 L354.7 585.6 L355.3 629.8 L356.2 688.8 L357.2 747.8 L358.7 767.0 L360.9 777.3 L361.6 782.3 L363.1 794.1 L364.6 803.0 L366.8 811.1 L369.0 819.2 L371.5 828.8 L373.4 825.1 L375.6 813.3 L377.4 806.7 L379.3 806.7 L380.8 811.8 L382.2 825.1 L384.5 838.4 L386.7 845.0 L388.1 836.9 L389.6 834.0 L391.1 828.8 L393.3 819.2 L395.5 808.9 L397.0 805.9 L398.5 806.7 L399.9 805.2 L402.4 805.2 L404.3 797.1 L405.8 788.2 L407.3 779.4 L408.8 771.4 L410.7 764.8 L412.5 768.5 L414.7 775.1 L416.1 780.9 L417.9 788.2 L419.4 789.7 L421.0 788.5 L422.0 793.4 L424.2 799.3 L426.5 805.2 L428.2 811.1 L430.1 811.8 L431.6 817.7 L432.8 821.9 L434.6 817.7 L436.0 820.7 L438.2 823.6 L440.5 825.9 L442.7 826.6 L444.1 829.5 L445.6 827.3 L447.5 832.2 L449.3 827.3 L451.5 824.4 L453.7 819.2 L455.9 811.1 L458.1 798.6 L459.6 791.9 L461.4 789.7 L463.3 796.4 L464.8 800.0 L467.0 808.2 L469.2 813.3 L470.7 819.2 L472.1 825.9 L474.4 831.8 L477.3 839.9 L479.5 846.5 L481.7 854.6 L483.9 863.5 L486.1 871.6 L488.4 875.3 L490.6 879.7 L492.8 884.9 L495.0 889.3 L497.2 887.8 L499.4 886.3 L500.9 885.6 L502.4 889.3 L504.6 891.5 L506.8 894.2 L509.0 887.8 L510.5 887.1 L512.7 889.3 L514.9 895.2 L517.1 893.0 L519.3 893.0 L521.5 892.7 L524.2 900.8 L526.7 897.4 L527.1 897.4 L529.3 896.7 L530.5 894.8 L532.3 900.4 L534.5 905.5 L537.4 909.5 L539.6 908.5 L541.1 909.9 L543.3 909.2 L546.3 908.5 L548.5 905.5 L550.7 904.8 L552.2 904.5 L553.6 905.8 L555.9 904.0 L558.1 902.9 L560.3 904.0 L562.5 906.0 L564.4 906.3 L565.9 906.6 L567.6 904.0 L569.9 901.8 L572.1 896.7 L574.3 892.2 L576.5 887.8 L578.0 884.4 L580.2 884.9 L581.6 886.3 L583.1 890.0 L584.3 893.0 L586.1 889.3 L588.0 884.9 L589.8 877.5 L591.2 876.5 L593.0 876.0 L594.9 877.5 L596.4 879.0 L598.6 877.2 L600.1 878.2 L602.3 878.2 L604.2 880.9 L605.7 879.0 L607.4 879.4 L609.2 879.4 L611.1 875.0 L613.3 874.5 L615.1 871.6 L616.3 870.1 L617.8 871.6 L619.7 870.1 L621.4 873.8 L622.6 876.5 L623.9 875.3 L625.1 876.8 L626.9 871.1 L628.5 874.5 L629.8 876.5 L631.0 874.5 L632.5 878.2 L634.0 876.0 L635.4 872.0 L636.9 873.8 L638.7 876.8 L640.2 878.2 L641.3 881.9 L642.5 884.9 L644.3 884.1 L646.0 886.3 L648.0 881.9 L649.4 881.2 L650.9 878.2 L652.4 876.5 L654.3 876.8 L655.8 876.5 L657.1 880.4 L658.3 882.9 L660.2 879.0 L662.0 876.8 L663.7 877.2 L665.6 879.7 L667.1 883.8 L669.0 880.7 L670.8 881.9 L672.3 883.4 L674.0 885.6 L676.0 884.9 L677.9 882.7 L679.4 881.5 L680.4 885.6 L681.9 890.8 L683.8 894.8 L685.5 898.1 L687.0 895.2 L689.2 889.3 L691.4 881.2 L693.6 870.9 L694.8 866.7 L696.3 868.2 L697.6 867.6 L698.8 867.2 L700.3 874.1 L701.5 876.0 L702.5 875.3 L704.0 879.0 L706.2 882.7 L707.6 881.5 L709.9 879.7 L712.1 881.5 L714.0 883.4 L715.8 880.4 L717.2 875.3 L718.7 875.0 L720.2 875.3 L719.9 875.3 L721.4 878.2 L723.6 884.9 L725.8 890.0 L728.0 894.5 L729.5 897.1 L731.4 891.5 L732.9 890.0 L734.6 887.4 L736.4 888.3 L738.3 890.0 L739.8 891.5 L742.0 895.2 L743.9 898.9 L745.7 897.7 L747.2 896.7 L748.6 898.1 L750.1 899.6 L752.0 899.3 L753.5 900.1 L755.3 898.6 L756.7 901.8 L758.5 903.6 L760.4 898.9 L762.6 894.5 L764.5 895.2 L766.3 894.2 L768.5 890.8 L770.0 888.6 L771.5 885.6 L773.2 891.5 L775.2 889.7 L776.2 888.6 L777.4 881.2 L778.8 872.3 L780.3 863.5 L781.8 857.6 L783.6 865.0 L785.0 862.7 L786.5 863.5 L787.7 859.1 L789.2 855.4 L791.4 856.8 L792.8 858.3 L794.3 861.3 L796.2 861.7 L798.0 861.7 L799.2 863.5 L800.6 869.4 L802.4 875.3 L803.6 880.0 L805.4 879.0 L806.8 883.4 L808.6 883.4 L810.1 888.6 L811.3 890.8 L813.0 890.5 L814.2 891.8 L815.7 886.3 L816.9 880.9 L818.3 880.4 L820.1 875.3 L821.6 877.0 L823.0 880.4 L824.8 882.7 L826.3 880.0 L827.8 876.8 L829.2 866.4 L830.7 858.3 L832.2 859.1 L833.4 857.9 L835.6 862.7 L837.0 859.1 L839.0 858.3 L840.7 855.4 L842.9 850.2 L844.4 845.8 L845.9 840.6 L846.9 841.1 L848.1 848.7 L849.3 856.1 L850.3 858.3 L851.5 863.5 L852.5 867.6 L854.0 864.2 L855.2 862.0 L856.9 863.2 L858.7 865.7 L860.2 870.1 L861.7 872.6 L863.6 872.0 L865.5 870.1 L866.8 868.2 L868.4 873.1 L870.2 874.8 L872.4 874.5 L873.9 869.4 L875.8 867.2 L876.8 867.6 L878.3 870.6 L879.8 870.1 L881.3 865.0 L883.2 860.2 L884.9 863.5 L886.4 867.2 L888.2 871.1 L889.4 867.2 L890.8 863.2 L892.3 865.7 L893.8 868.6 L895.3 870.9 L896.7 873.5 L898.2 866.4 L900.0 856.1 L901.4 849.5 L902.6 850.2 L904.1 855.4 L905.6 862.0 L907.0 870.9 L908.5 876.8 L910.3 881.2 L911.9 884.4 L913.7 882.4 L914.9 881.2 L916.6 879.4 L918.1 879.0 L920.0 882.7 L921.9 884.9 L923.7 890.8 L925.9 891.5 L928.1 891.2 L929.6 891.5 L931.1 887.1 L932.6 882.7 L933.7 884.9 L935.5 873.8 L937.7 870.9 L939.2 865.7 L940.7 866.4 L942.1 870.9 L944.0 871.1 L945.8 866.4 L947.6 862.7 L949.5 860.5 L951.0 861.3 L952.0 864.7 L953.5 860.5 L955.4 860.5 L956.9 862.0 L958.3 861.3 L959.8 865.0 L961.3 861.3 L962.8 854.6 L964.2 850.9 L965.7 851.7 L967.2 855.8 L968.7 859.8 L970.1 863.2 L972.1 860.5 L973.5 857.9 L974.6 856.8 L975.6 859.8 L977.5 856.8 L979.0 852.4 L980.5 853.9 L981.5 850.9 L982.7 854.3 L983.8 857.9 L985.3 851.7 L987.1 842.8 L988.6 836.9 L990.0 836.9 L991.5 839.9 L993.0 844.3 L994.5 849.9 L995.9 844.3 L997.1 842.8 L998.1 845.5 L999.6 839.1 L1000.6 834.0 L1002.1 834.7 L1003.3 831.8 L1004.8 827.3 L1005.9 831.0 L1007.4 826.6 L1008.9 821.4 L1010.4 821.9 L1011.4 817.0 L1012.4 813.6 L1013.6 820.7 L1014.8 827.3 L1016.6 822.9 L1017.7 825.9 L1019.5 827.3 L1021.0 828.8 L1022.2 836.9 L1023.6 843.1 L1025.4 847.2 L1026.6 849.9 L1028.1 845.8 L1029.1 845.5 L1030.1 848.7 L1031.3 843.6 L1032.5 839.9 L1033.9 842.5 L1035.4 843.6 L1037.2 846.1 L1038.7 841.6 L1039.8 836.9 L1040.9 836.9 L1041.9 829.5 L1043.4 819.2 L1044.9 811.1 L1046.3 803.0 L1047.8 802.3 L1049.0 792.7 L1050.7 772.9 L1051.9 768.5 L1053.0 752.3 L1054.1 737.5 L1055.2 739.7 L1056.3 749.3 L1057.8 761.1 L1059.3 772.9 L1060.3 777.3 L1061.5 775.1 L1062.7 767.0 L1063.7 747.8 L1064.9 724.2 L1065.9 708.0 L1067.4 697.7 L1068.9 691.8 L1069.9 692.5 L1070.8 703.6 L1071.8 704.3 L1072.9 691.8 L1073.7 677.0 L1074.8 666.7 L1075.8 664.9 L1077.7 665.5 L1078.7 669.7 L1079.6 681.5 L1080.7 691.0 L1081.7 684.4 L1082.9 680.7 L1084.1 686.6 L1085.5 696.2 L1086.6 708.0 L1087.6 721.3 L1088.8 729.4 L1089.9 726.5 L1091.7 726.9 L1093.2 725.7 L1094.4 736.0 L1095.4 743.4 L1096.9 748.6 L1098.3 754.5 L1099.4 758.9 L1100.6 755.2 L1101.3 762.6 L1102.3 771.4 L1103.2 783.8 L1104.7 794.1 L1106.2 805.9 L1107.9 813.3 L1110.1 820.7 L1109.9 818.5 L1111.3 822.2 L1113.5 828.4 L1115.5 827.3 L1116.9 819.2 L1118.4 797.1 L1119.9 779.4 L1120.8 766.2 L1122.2 755.6 L1123.1 751.7 L1124.4 755.6 L1125.8 750.3 L1127.0 732.6 L1128.1 706.0 L1129.3 679.5 L1130.5 658.2 L1131.6 644.1 L1132.8 633.4 L1134.1 625.5 L1135.5 623.7 L1136.4 623.3 L1137.4 619.3 L1138.5 626.4 L1139.9 633.4 L1141.3 637.9 L1142.6 642.3 L1143.8 644.4 L1144.7 637.0 L1145.7 644.9 L1147.0 651.1 L1148.2 667.1 L1149.3 688.3 L1150.5 709.5 L1151.8 732.6 L1152.8 753.8 L1153.7 769.7 L1154.8 783.8 L1156.7 793.8 L1158.2 785.3 L1159.0 772.4 L1160.2 769.4 L1161.5 774.1 L1162.6 786.8 L1164.1 801.5 L1165.1 810.4 L1166.6 811.1 L1167.8 809.2 L1168.8 811.1 L1170.0 809.2 L1171.0 819.2 L1172.5 834.0 L1174.0 844.3 L1175.4 843.6 L1176.9 841.3 L1177.9 836.9 L1179.1 829.5 L1180.3 827.3 L1181.3 833.2 L1182.4 839.9 L1183.5 842.1 L1184.7 841.1 L1186.5 845.5 L1188.0 844.3 L1189.4 843.1 L1190.6 836.9 L1191.6 823.6 L1192.7 813.3 L1193.9 810.4 L1195.0 804.5 L1196.1 800.8 L1197.1 813.3 L1198.3 831.0 L1199.5 842.8 L1200.5 853.1 L1202.0 863.2 L1203.0 851.7 L1204.2 839.9 L1205.3 832.5 L1206.4 822.2 L1207.9 813.6 L1208.9 820.7 L1210.1 823.6 L1211.2 824.4 L1212.3 836.9 L1213.5 848.7 L1214.8 859.1 L1216.0 869.4 L1217.1 873.1 L1218.6 871.6 L1219.6 878.2 L1221.1 885.6 L1222.6 889.3 L1224.1 890.8 L1225.5 884.1 L1226.7 876.8 L1227.7 870.9 L1228.9 866.7 L1230.7 866.4 L1231.9 872.3 L1232.9 875.3 L1233.9 881.2 L1235.1 887.1 L1236.6 890.8 L1238.1 884.1 L1239.2 884.9 L1240.7 879.7 L1242.2 876.8 L1243.2 882.7 L1244.7 895.2 L1246.2 888.6 L1247.6 887.8 L1249.1 884.1 L1250.6 876.8 L1251.6 874.5 L1253.1 875.3 L1254.3 873.1 L1255.7 870.9 L1256.9 873.1 L1258.0 870.9 L1259.0 875.3 L1260.2 871.6 L1261.3 881.2 L1262.4 870.9 L1263.4 876.8 L1264.6 887.1 L1265.8 884.1 L1267.2 890.0 L1268.7 901.1 L1270.2 893.0 L1271.2 887.1 L1272.7 881.2 L1274.2 875.3 L1275.2 872.3 L1276.4 876.8 L1277.6 884.1 L1279.0 893.0 L1280.5 899.6 L1282.3 895.2 L1283.7 888.6 L1284.9 879.7 L1286.0 875.3 L1287.4 876.8 L1288.9 875.3 L1289.9 882.7 L1291.1 893.0 L1292.3 884.1 L1293.8 885.6 L1295.2 884.9 L1296.7 890.0 L1298.2 897.4 L1299.7 903.3 L1301.0 906.3 L1302.2 900.4 L1303.6 894.5 L1305.1 891.5 L1306.6 884.1 L1308.1 881.2 L1308.1 881.2 L1309.6 878.2 L1311.1 880.4 L1312.5 887.1 L1314.0 894.5 L1315.5 901.1 L1317.2 902.1 L1319.2 898.9 L1321.1 895.9 L1322.8 895.2 L1324.3 897.4 L1326.1 902.6 L1328.0 905.5 L1329.5 904.8 L1331.0 907.0 L1332.4 908.5 L1333.9 909.9 L1335.4 907.0 L1336.8 900.4 L1338.3 887.1 L1339.8 873.8 L1340.8 869.4 L1342.3 870.1 L1343.5 878.2 L1345.0 890.0 L1346.4 900.4 L1347.9 905.5 L1349.4 903.3 L1350.8 899.6 L1352.3 896.7 L1353.8 893.0 L1355.0 895.9 L1356.0 896.7 L1357.0 890.0 L1357.9 878.2 L1358.7 863.5 L1359.4 841.3 L1360.1 819.2 L1360.7 807.4"/>
</g>
</svg></body></html>
